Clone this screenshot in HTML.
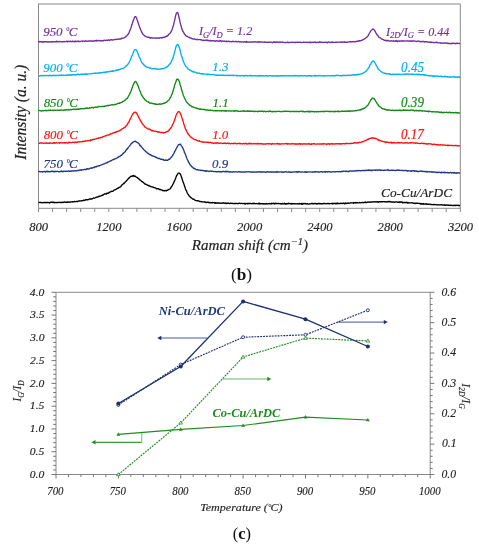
<!DOCTYPE html>
<html><head><meta charset="utf-8"><style>
html,body{margin:0;padding:0;background:#fff;}
svg{display:block;will-change:transform;}
</style></head><body>
<svg width="479" height="550" viewBox="0 0 479 550">
<rect width="479" height="550" fill="#fff"/>
<rect x="38.5" y="4" width="421.8" height="204.3" fill="none" stroke="#8a8a8a" stroke-width="1"/>
<path d="M38.50 208.3V212 M52.56 208.3V212 M66.62 208.3V212 M80.68 208.3V212 M94.74 208.3V212 M108.80 208.3V212 M122.86 208.3V212 M136.92 208.3V212 M150.98 208.3V212 M165.04 208.3V212 M179.10 208.3V212 M193.16 208.3V212 M207.22 208.3V212 M221.28 208.3V212 M235.34 208.3V212 M249.40 208.3V212 M263.46 208.3V212 M277.52 208.3V212 M291.58 208.3V212 M305.64 208.3V212 M319.70 208.3V212 M333.76 208.3V212 M347.82 208.3V212 M361.88 208.3V212 M375.94 208.3V212 M390.00 208.3V212 M404.06 208.3V212 M418.12 208.3V212 M432.18 208.3V212 M446.24 208.3V212 M460.30 208.3V212" stroke="#8a8a8a" stroke-width="1" fill="none"/>
<polyline points="38.5,42.30 39.0,41.37 39.5,41.97 40.0,41.77 40.5,41.79 41.0,41.83 41.5,41.47 42.0,41.82 42.5,41.69 43.0,42.52 43.5,41.90 44.0,41.78 44.5,41.79 45.0,41.71 45.5,41.63 46.0,41.76 46.5,41.93 47.0,41.78 47.5,42.02 48.0,41.78 48.5,41.82 49.0,42.12 49.5,41.92 50.0,41.70 50.5,41.76 51.0,41.90 51.5,42.18 52.0,41.73 52.5,41.73 53.0,41.97 53.5,41.59 54.0,41.70 54.5,41.93 55.0,41.87 55.5,41.76 56.0,41.87 56.5,41.17 57.0,41.93 57.5,41.53 58.0,41.38 58.5,41.76 59.0,41.84 59.5,41.61 60.0,41.47 60.5,41.69 61.0,41.66 61.5,41.95 62.0,41.81 62.5,41.69 63.0,41.87 63.5,41.60 64.0,41.44 64.5,41.74 65.0,41.73 65.5,41.56 66.0,41.44 66.5,41.63 67.0,41.08 67.5,41.71 68.0,41.66 68.5,41.22 69.0,41.55 69.5,41.34 70.0,41.67 70.5,41.11 71.0,41.32 71.5,41.64 72.0,41.71 72.5,41.04 73.0,41.36 73.5,41.52 74.0,41.32 74.5,41.75 75.0,41.18 75.5,41.48 76.0,41.19 76.5,41.67 77.0,41.37 77.5,41.29 78.0,41.01 78.5,41.67 79.0,41.48 79.5,41.46 80.0,41.53 80.5,41.36 81.0,41.15 81.5,41.10 82.0,41.09 82.5,41.51 83.0,40.93 83.5,41.09 84.0,41.13 84.5,41.22 85.0,41.28 85.5,40.90 86.0,40.79 86.5,41.12 87.0,41.34 87.5,41.24 88.0,41.11 88.5,40.99 89.0,41.10 89.5,40.97 90.0,41.17 90.5,40.83 91.0,41.00 91.5,40.93 92.0,41.04 92.5,40.96 93.0,41.41 93.5,41.18 94.0,41.16 94.5,40.44 95.0,40.76 95.5,40.68 96.0,40.89 96.5,40.31 97.0,40.98 97.5,40.94 98.0,40.44 98.5,40.49 99.0,40.50 99.5,40.65 100.0,40.74 100.5,41.00 101.0,40.53 101.5,40.70 102.0,40.55 102.5,40.85 103.0,40.62 103.5,40.72 104.0,40.21 104.5,40.36 105.0,40.21 105.5,40.64 106.0,40.44 106.5,40.22 107.0,40.16 107.5,40.32 108.0,40.05 108.5,39.97 109.0,40.22 109.5,40.58 110.0,40.01 110.5,39.91 111.0,39.75 111.5,39.67 112.0,40.00 112.5,40.03 113.0,39.81 113.5,39.83 114.0,39.74 114.5,39.70 115.0,39.31 115.5,39.47 116.0,39.52 116.5,39.28 117.0,39.28 117.5,39.14 118.0,39.17 118.5,39.33 119.0,38.99 119.5,38.95 120.0,39.05 120.5,38.91 121.0,39.01 121.5,38.13 122.0,38.58 122.5,38.16 123.0,38.11 123.5,38.06 124.0,37.89 124.5,37.63 125.0,37.17 125.5,37.13 126.0,36.37 126.5,35.95 127.0,35.62 127.5,34.74 128.0,34.59 128.5,33.56 129.0,32.88 129.5,31.41 130.0,30.19 130.5,29.02 131.0,27.73 131.5,25.96 132.0,24.58 132.5,22.87 133.0,21.60 133.5,19.65 134.0,18.71 134.5,17.39 135.0,16.75 135.5,16.70 136.0,16.98 136.5,18.06 137.0,19.40 137.5,20.63 138.0,22.26 138.5,24.05 139.0,25.35 139.5,26.84 140.0,28.16 140.5,29.18 141.0,30.83 141.5,31.37 142.0,32.77 142.5,33.45 143.0,34.37 143.5,34.74 144.0,35.10 144.5,35.78 145.0,35.97 145.5,36.36 146.0,36.68 146.5,36.87 147.0,37.05 147.5,37.09 148.0,37.36 148.5,37.09 149.0,37.60 149.5,37.48 150.0,38.02 150.5,38.12 151.0,37.54 151.5,38.01 152.0,37.99 152.5,37.85 153.0,38.19 153.5,38.02 154.0,37.77 154.5,38.09 155.0,38.12 155.5,38.17 156.0,37.90 156.5,38.26 157.0,38.27 157.5,37.88 158.0,37.95 158.5,38.04 159.0,37.91 159.5,38.33 160.0,37.97 160.5,37.67 161.0,37.65 161.5,37.72 162.0,38.11 162.5,37.52 163.0,37.48 163.5,37.44 164.0,37.20 164.5,37.51 165.0,36.78 165.5,36.85 166.0,36.51 166.5,36.36 167.0,35.73 167.5,36.00 168.0,35.26 168.5,34.88 169.0,34.22 169.5,33.71 170.0,33.34 170.5,32.69 171.0,31.80 171.5,30.90 172.0,29.65 172.5,28.18 173.0,26.81 173.5,25.00 174.0,22.89 174.5,20.91 175.0,18.78 175.5,16.37 176.0,14.33 176.5,13.13 177.0,12.69 177.5,12.46 178.0,13.50 178.5,15.17 179.0,17.54 179.5,19.19 180.0,21.88 180.5,24.16 181.0,25.68 181.5,27.84 182.0,29.14 182.5,30.21 183.0,31.47 183.5,32.09 184.0,33.11 184.5,34.31 185.0,34.39 185.5,35.49 186.0,35.58 186.5,36.22 187.0,36.41 187.5,36.28 188.0,36.91 188.5,37.33 189.0,37.30 189.5,37.48 190.0,38.01 190.5,37.99 191.0,37.94 191.5,38.29 192.0,38.74 192.5,38.60 193.0,39.00 193.5,39.23 194.0,39.03 194.5,38.89 195.0,38.95 195.5,39.28 196.0,39.54 196.5,39.50 197.0,39.62 197.5,39.49 198.0,39.70 198.5,39.61 199.0,39.69 199.5,39.55 200.0,39.55 200.5,39.82 201.0,39.74 201.5,39.82 202.0,40.19 202.5,40.08 203.0,40.72 203.5,40.36 204.0,40.09 204.5,40.41 205.0,40.36 205.5,40.19 206.0,40.58 206.5,40.24 207.0,39.82 207.5,40.62 208.0,40.37 208.5,40.82 209.0,40.42 209.5,40.34 210.0,40.92 210.5,40.42 211.0,40.70 211.5,40.98 212.0,40.74 212.5,40.73 213.0,40.79 213.5,40.96 214.0,40.66 214.5,40.96 215.0,40.98 215.5,41.35 216.0,40.84 216.5,40.75 217.0,41.10 217.5,40.90 218.0,41.06 218.5,41.05 219.0,41.27 219.5,40.93 220.0,41.06 220.5,40.59 221.0,40.94 221.5,41.45 222.0,41.02 222.5,41.04 223.0,40.95 223.5,41.33 224.0,41.27 224.5,41.01 225.0,41.40 225.5,41.34 226.0,41.46 226.5,41.19 227.0,41.69 227.5,41.44 228.0,41.35 228.5,41.28 229.0,41.36 229.5,41.59 230.0,41.38 230.5,41.67 231.0,41.58 231.5,41.75 232.0,41.66 232.5,41.50 233.0,41.14 233.5,41.60 234.0,41.71 234.5,41.60 235.0,41.69 235.5,41.50 236.0,41.53 236.5,41.43 237.0,41.91 237.5,41.68 238.0,41.56 238.5,41.41 239.0,41.65 239.5,41.99 240.0,41.80 240.5,41.58 241.0,42.02 241.5,42.03 242.0,41.95 242.5,41.93 243.0,42.01 243.5,41.90 244.0,41.96 244.5,41.65 245.0,42.12 245.5,41.88 246.0,42.25 246.5,41.44 247.0,42.00 247.5,42.07 248.0,41.81 248.5,41.98 249.0,42.05 249.5,42.02 250.0,41.81 250.5,41.90 251.0,42.14 251.5,42.20 252.0,41.97 252.5,41.98 253.0,42.01 253.5,42.19 254.0,41.77 254.5,41.73 255.0,42.03 255.5,41.79 256.0,41.90 256.5,42.04 257.0,42.13 257.5,41.82 258.0,42.21 258.5,41.70 259.0,42.17 259.5,41.75 260.0,41.82 260.5,42.21 261.0,42.00 261.5,41.93 262.0,42.01 262.5,42.20 263.0,42.10 263.5,42.11 264.0,42.33 264.5,41.98 265.0,42.04 265.5,42.03 266.0,42.38 266.5,42.35 267.0,42.41 267.5,42.15 268.0,42.13 268.5,42.34 269.0,42.09 269.5,42.34 270.0,42.33 270.5,42.05 271.0,42.18 271.5,42.17 272.0,42.55 272.5,42.72 273.0,42.19 273.5,42.22 274.0,41.76 274.5,42.26 275.0,42.22 275.5,42.01 276.0,42.39 276.5,41.92 277.0,42.20 277.5,42.27 278.0,42.00 278.5,42.42 279.0,42.46 279.5,41.98 280.0,41.98 280.5,42.38 281.0,42.26 281.5,42.03 282.0,42.21 282.5,42.25 283.0,42.25 283.5,42.44 284.0,42.36 284.5,42.64 285.0,42.56 285.5,42.42 286.0,42.51 286.5,42.56 287.0,42.44 287.5,42.05 288.0,42.47 288.5,42.32 289.0,42.63 289.5,42.33 290.0,42.41 290.5,42.38 291.0,42.65 291.5,42.35 292.0,42.26 292.5,42.38 293.0,42.23 293.5,42.35 294.0,42.32 294.5,42.38 295.0,42.71 295.5,42.25 296.0,42.34 296.5,42.29 297.0,42.47 297.5,42.10 298.0,42.20 298.5,42.33 299.0,42.45 299.5,42.33 300.0,42.24 300.5,42.17 301.0,42.44 301.5,42.63 302.0,42.41 302.5,42.38 303.0,42.43 303.5,42.16 304.0,42.28 304.5,42.29 305.0,42.41 305.5,42.34 306.0,42.10 306.5,42.57 307.0,42.69 307.5,42.30 308.0,42.43 308.5,42.40 309.0,42.51 309.5,42.05 310.0,42.67 310.5,42.26 311.0,42.60 311.5,42.37 312.0,42.27 312.5,42.32 313.0,42.53 313.5,42.18 314.0,42.27 314.5,42.25 315.0,42.01 315.5,42.61 316.0,42.46 316.5,42.34 317.0,42.58 317.5,42.15 318.0,42.33 318.5,42.69 319.0,42.54 319.5,41.90 320.0,41.68 320.5,42.13 321.0,42.55 321.5,42.24 322.0,42.29 322.5,42.46 323.0,42.16 323.5,42.37 324.0,42.49 324.5,42.42 325.0,42.41 325.5,42.20 326.0,42.43 326.5,42.24 327.0,42.58 327.5,42.83 328.0,42.17 328.5,41.88 329.0,42.22 329.5,42.38 330.0,42.51 330.5,42.51 331.0,42.14 331.5,42.13 332.0,42.54 332.5,42.07 333.0,42.50 333.5,42.23 334.0,42.43 334.5,42.41 335.0,42.42 335.5,42.42 336.0,42.05 336.5,42.31 337.0,42.24 337.5,42.30 338.0,42.47 338.5,42.17 339.0,42.07 339.5,42.06 340.0,42.14 340.5,42.34 341.0,42.02 341.5,42.40 342.0,42.22 342.5,42.11 343.0,41.87 343.5,42.18 344.0,42.26 344.5,41.75 345.0,42.33 345.5,42.41 346.0,42.13 346.5,42.14 347.0,42.51 347.5,42.26 348.0,41.81 348.5,41.97 349.0,41.92 349.5,41.90 350.0,41.43 350.5,42.03 351.0,41.72 351.5,41.86 352.0,41.76 352.5,41.93 353.0,41.66 353.5,41.52 354.0,41.75 354.5,41.88 355.0,41.48 355.5,41.77 356.0,41.49 356.5,41.27 357.0,41.62 357.5,41.07 358.0,41.36 358.5,40.97 359.0,41.07 359.5,40.63 360.0,40.59 360.5,40.85 361.0,40.54 361.5,40.35 362.0,40.09 362.5,40.08 363.0,39.50 363.5,39.32 364.0,39.25 364.5,38.82 365.0,38.51 365.5,38.27 366.0,37.84 366.5,37.35 367.0,37.20 367.5,36.48 368.0,35.87 368.5,34.90 369.0,34.03 369.5,33.00 370.0,32.36 370.5,31.16 371.0,30.64 371.5,30.20 372.0,29.83 372.5,29.37 373.0,28.93 373.5,29.38 374.0,29.55 374.5,30.49 375.0,31.05 375.5,32.08 376.0,33.27 376.5,33.78 377.0,34.86 377.5,35.18 378.0,35.75 378.5,36.70 379.0,37.32 379.5,37.35 380.0,37.91 380.5,37.99 381.0,38.57 381.5,39.09 382.0,39.16 382.5,39.30 383.0,39.34 383.5,39.88 384.0,40.13 384.5,40.23 385.0,40.30 385.5,40.10 386.0,40.81 386.5,40.54 387.0,40.60 387.5,40.85 388.0,40.33 388.5,40.81 389.0,40.84 389.5,40.99 390.0,41.22 390.5,41.08 391.0,40.64 391.5,40.97 392.0,41.09 392.5,41.10 393.0,40.83 393.5,40.76 394.0,41.21 394.5,41.18 395.0,41.11 395.5,40.77 396.0,41.47 396.5,40.53 397.0,41.04 397.5,41.53 398.0,41.07 398.5,41.15 399.0,40.86 399.5,41.36 400.0,40.82 400.5,41.12 401.0,41.09 401.5,40.85 402.0,41.23 402.5,40.76 403.0,40.90 403.5,41.03 404.0,40.94 404.5,41.11 405.0,41.20 405.5,40.95 406.0,40.90 406.5,40.90 407.0,40.93 407.5,41.17 408.0,40.97 408.5,41.09 409.0,41.00 409.5,40.85 410.0,41.20 410.5,40.83 411.0,41.04 411.5,41.35 412.0,40.84 412.5,41.06 413.0,40.77 413.5,41.00 414.0,40.82 414.5,41.07 415.0,41.05 415.5,41.21 416.0,41.52 416.5,41.29 417.0,41.39 417.5,41.27 418.0,41.26 418.5,41.17 419.0,41.01 419.5,41.41 420.0,41.76 420.5,41.56 421.0,41.39 421.5,41.86 422.0,41.48 422.5,41.48 423.0,41.40 423.5,41.49 424.0,41.67 424.5,42.16 425.0,41.76 425.5,41.63 426.0,41.75 426.5,41.87 427.0,41.61 427.5,42.02 428.0,42.18 428.5,42.14 429.0,42.24 429.5,41.90 430.0,41.86 430.5,42.49 431.0,42.50 431.5,42.01 432.0,42.40 432.5,42.40 433.0,42.54 433.5,42.51 434.0,42.40 434.5,42.58 435.0,42.61 435.5,42.60 436.0,42.28 436.5,42.08 437.0,42.56 437.5,42.42 438.0,42.83 438.5,42.95 439.0,42.89 439.5,42.80 440.0,42.91 440.5,43.16 441.0,42.81 441.5,43.17 442.0,43.15 442.5,43.09 443.0,43.35 443.5,42.94 444.0,43.30 444.5,42.95 445.0,43.00 445.5,42.97 446.0,43.29 446.5,43.03 447.0,43.25 447.5,43.03 448.0,43.49 448.5,43.67 449.0,43.36 449.5,43.66 450.0,43.47 450.5,43.80 451.0,43.41 451.5,43.09 452.0,43.72 452.5,43.41 453.0,43.24 453.5,43.33 454.0,43.15 454.5,43.46 455.0,43.29 455.5,43.82 456.0,43.67 456.5,43.22 457.0,43.26 457.5,43.46 458.0,43.20 458.5,43.58 459.0,43.61 459.5,43.47 460.0,43.53" fill="none" stroke="#7030A0" stroke-width="1.35" stroke-linejoin="round"/>
<polyline points="38.5,75.81 39.0,75.99 39.5,76.00 40.0,75.71 40.5,75.86 41.0,75.54 41.5,75.77 42.0,75.49 42.5,75.82 43.0,75.42 43.5,75.47 44.0,75.66 44.5,75.76 45.0,75.36 45.5,75.53 46.0,75.66 46.5,75.67 47.0,75.45 47.5,75.63 48.0,75.55 48.5,75.88 49.0,75.70 49.5,75.32 50.0,75.14 50.5,75.59 51.0,75.80 51.5,75.59 52.0,75.72 52.5,75.44 53.0,75.25 53.5,75.66 54.0,75.52 54.5,75.63 55.0,75.21 55.5,75.51 56.0,75.34 56.5,75.61 57.0,75.32 57.5,75.30 58.0,75.30 58.5,75.65 59.0,75.39 59.5,75.22 60.0,75.16 60.5,75.14 61.0,75.63 61.5,74.96 62.0,75.13 62.5,75.42 63.0,75.51 63.5,75.23 64.0,75.40 64.5,75.37 65.0,75.40 65.5,75.20 66.0,75.50 66.5,75.19 67.0,75.44 67.5,74.90 68.0,75.28 68.5,74.82 69.0,74.76 69.5,75.14 70.0,74.85 70.5,75.08 71.0,74.76 71.5,75.27 72.0,74.93 72.5,74.67 73.0,74.91 73.5,75.03 74.0,74.67 74.5,74.91 75.0,75.19 75.5,74.92 76.0,74.72 76.5,74.58 77.0,74.78 77.5,74.33 78.0,74.00 78.5,74.45 79.0,74.33 79.5,74.87 80.0,74.51 80.5,74.26 81.0,74.19 81.5,74.49 82.0,74.19 82.5,74.21 83.0,74.27 83.5,74.27 84.0,74.24 84.5,74.20 85.0,74.41 85.5,74.45 86.0,73.74 86.5,74.55 87.0,74.02 87.5,74.20 88.0,73.77 88.5,73.94 89.0,73.87 89.5,73.81 90.0,73.92 90.5,73.83 91.0,73.46 91.5,73.59 92.0,73.72 92.5,73.67 93.0,73.42 93.5,73.38 94.0,73.36 94.5,73.12 95.0,73.04 95.5,73.56 96.0,73.12 96.5,73.17 97.0,72.95 97.5,73.30 98.0,73.34 98.5,72.90 99.0,72.99 99.5,72.68 100.0,73.13 100.5,72.91 101.0,72.50 101.5,72.86 102.0,72.63 102.5,72.58 103.0,72.51 103.5,72.25 104.0,72.22 104.5,72.39 105.0,72.19 105.5,71.95 106.0,72.48 106.5,71.97 107.0,71.83 107.5,71.74 108.0,71.95 108.5,71.94 109.0,71.72 109.5,71.77 110.0,71.22 110.5,71.38 111.0,71.28 111.5,71.29 112.0,71.31 112.5,70.72 113.0,71.67 113.5,70.78 114.0,70.93 114.5,70.94 115.0,70.85 115.5,70.62 116.0,69.89 116.5,70.14 117.0,70.40 117.5,69.94 118.0,69.79 118.5,69.40 119.0,69.97 119.5,69.68 120.0,69.24 120.5,69.23 121.0,69.06 121.5,68.66 122.0,68.62 122.5,68.51 123.0,68.33 123.5,68.21 124.0,67.68 124.5,67.27 125.0,67.10 125.5,66.52 126.0,65.98 126.5,66.00 127.0,65.19 127.5,64.72 128.0,64.20 128.5,63.14 129.0,62.70 129.5,61.79 130.0,60.71 130.5,59.74 131.0,58.34 131.5,56.79 132.0,55.84 132.5,54.34 133.0,53.34 133.5,51.94 134.0,50.68 134.5,49.96 135.0,49.72 135.5,49.57 136.0,49.71 136.5,50.39 137.0,51.21 137.5,52.41 138.0,53.85 138.5,55.05 139.0,56.46 139.5,57.44 140.0,58.51 140.5,59.58 141.0,60.82 141.5,62.05 142.0,62.81 142.5,63.08 143.0,63.60 143.5,64.63 144.0,65.06 144.5,65.14 145.0,66.02 145.5,66.20 146.0,66.75 146.5,66.83 147.0,67.20 147.5,67.32 148.0,67.27 148.5,67.60 149.0,67.68 149.5,68.14 150.0,67.91 150.5,67.93 151.0,68.49 151.5,68.68 152.0,68.83 152.5,68.85 153.0,68.40 153.5,68.63 154.0,68.72 154.5,68.87 155.0,68.49 155.5,68.95 156.0,69.04 156.5,68.81 157.0,69.04 157.5,69.26 158.0,69.03 158.5,69.23 159.0,69.20 159.5,69.06 160.0,69.02 160.5,68.83 161.0,69.09 161.5,68.69 162.0,68.56 162.5,68.75 163.0,68.36 163.5,68.47 164.0,68.46 164.5,68.10 165.0,67.92 165.5,67.87 166.0,67.60 166.5,66.87 167.0,66.61 167.5,66.78 168.0,66.20 168.5,65.25 169.0,64.87 169.5,64.56 170.0,63.69 170.5,63.21 171.0,62.26 171.5,61.35 172.0,59.89 172.5,58.98 173.0,57.83 173.5,55.72 174.0,54.43 174.5,52.56 175.0,50.63 175.5,48.66 176.0,46.77 176.5,45.45 177.0,44.84 177.5,44.48 178.0,44.72 178.5,45.45 179.0,46.70 179.5,48.07 180.0,49.77 180.5,52.01 181.0,54.01 181.5,55.79 182.0,57.20 182.5,58.99 183.0,60.24 183.5,61.86 184.0,62.77 184.5,63.98 185.0,64.99 185.5,65.77 186.0,66.74 186.5,66.90 187.0,67.27 187.5,68.42 188.0,68.98 188.5,69.41 189.0,69.57 189.5,69.97 190.0,70.21 190.5,70.22 191.0,70.63 191.5,71.10 192.0,71.11 192.5,71.82 193.0,71.33 193.5,71.73 194.0,72.21 194.5,72.03 195.0,72.07 195.5,72.16 196.0,72.42 196.5,73.00 197.0,72.89 197.5,73.03 198.0,72.92 198.5,73.30 199.0,73.24 199.5,73.13 200.0,73.31 200.5,73.52 201.0,73.79 201.5,73.62 202.0,73.81 202.5,74.18 203.0,73.68 203.5,73.65 204.0,74.16 204.5,74.11 205.0,74.06 205.5,74.19 206.0,74.12 206.5,74.34 207.0,74.22 207.5,74.49 208.0,74.14 208.5,74.26 209.0,74.48 209.5,74.41 210.0,74.68 210.5,74.57 211.0,74.51 211.5,74.70 212.0,74.58 212.5,74.41 213.0,74.53 213.5,74.63 214.0,74.72 214.5,74.87 215.0,75.06 215.5,75.01 216.0,75.29 216.5,75.21 217.0,74.94 217.5,75.34 218.0,75.27 218.5,74.96 219.0,75.14 219.5,75.32 220.0,75.17 220.5,75.34 221.0,75.24 221.5,75.32 222.0,75.14 222.5,75.29 223.0,75.16 223.5,75.39 224.0,74.93 224.5,75.35 225.0,75.55 225.5,75.43 226.0,75.33 226.5,75.46 227.0,75.19 227.5,75.21 228.0,75.32 228.5,75.37 229.0,75.61 229.5,75.25 230.0,75.64 230.5,75.14 231.0,75.30 231.5,75.47 232.0,75.72 232.5,75.37 233.0,75.08 233.5,75.60 234.0,75.52 234.5,75.32 235.0,75.33 235.5,75.41 236.0,75.58 236.5,75.70 237.0,75.28 237.5,76.04 238.0,75.58 238.5,75.52 239.0,75.74 239.5,75.63 240.0,76.08 240.5,75.84 241.0,75.56 241.5,75.56 242.0,75.54 242.5,75.58 243.0,75.79 243.5,75.53 244.0,75.99 244.5,75.65 245.0,75.64 245.5,75.87 246.0,75.29 246.5,75.50 247.0,75.81 247.5,75.70 248.0,75.70 248.5,75.78 249.0,75.59 249.5,75.68 250.0,75.44 250.5,75.34 251.0,75.97 251.5,75.54 252.0,75.58 252.5,76.01 253.0,75.95 253.5,75.63 254.0,75.63 254.5,75.73 255.0,75.55 255.5,75.86 256.0,75.78 256.5,75.78 257.0,75.91 257.5,75.90 258.0,76.13 258.5,76.07 259.0,75.42 259.5,75.95 260.0,75.54 260.5,75.48 261.0,75.91 261.5,75.63 262.0,75.71 262.5,75.99 263.0,75.65 263.5,75.60 264.0,75.85 264.5,76.03 265.0,75.89 265.5,75.48 266.0,75.66 266.5,75.76 267.0,76.18 267.5,75.97 268.0,75.96 268.5,76.04 269.0,75.73 269.5,75.89 270.0,75.90 270.5,75.60 271.0,75.80 271.5,75.92 272.0,75.59 272.5,75.97 273.0,75.96 273.5,76.01 274.0,75.65 274.5,75.83 275.0,76.10 275.5,75.97 276.0,75.65 276.5,75.86 277.0,76.10 277.5,75.80 278.0,75.89 278.5,76.33 279.0,75.81 279.5,75.79 280.0,75.61 280.5,75.68 281.0,76.11 281.5,75.79 282.0,75.58 282.5,75.63 283.0,75.82 283.5,75.97 284.0,75.67 284.5,75.96 285.0,75.72 285.5,75.89 286.0,75.92 286.5,75.94 287.0,75.73 287.5,75.79 288.0,75.92 288.5,75.56 289.0,75.85 289.5,75.92 290.0,76.03 290.5,75.81 291.0,75.78 291.5,75.85 292.0,75.67 292.5,75.78 293.0,75.90 293.5,75.87 294.0,75.61 294.5,75.75 295.0,75.39 295.5,75.98 296.0,75.71 296.5,75.86 297.0,75.59 297.5,75.80 298.0,75.90 298.5,76.01 299.0,75.54 299.5,75.98 300.0,75.78 300.5,75.66 301.0,75.91 301.5,75.75 302.0,75.75 302.5,75.67 303.0,75.85 303.5,75.82 304.0,75.77 304.5,75.62 305.0,75.70 305.5,75.89 306.0,76.06 306.5,75.80 307.0,76.09 307.5,75.80 308.0,75.58 308.5,75.93 309.0,75.61 309.5,75.88 310.0,76.01 310.5,75.74 311.0,75.78 311.5,76.29 312.0,75.84 312.5,75.85 313.0,75.95 313.5,75.77 314.0,75.77 314.5,75.86 315.0,75.31 315.5,76.07 316.0,75.57 316.5,75.57 317.0,75.89 317.5,75.79 318.0,75.53 318.5,75.82 319.0,75.55 319.5,75.63 320.0,75.47 320.5,75.60 321.0,75.85 321.5,75.79 322.0,75.82 322.5,75.94 323.0,75.75 323.5,75.62 324.0,75.70 324.5,76.08 325.0,75.75 325.5,75.81 326.0,75.72 326.5,75.79 327.0,75.82 327.5,75.73 328.0,75.70 328.5,75.57 329.0,75.55 329.5,75.80 330.0,75.86 330.5,75.89 331.0,75.72 331.5,75.54 332.0,75.82 332.5,75.82 333.0,75.39 333.5,75.84 334.0,75.79 334.5,76.00 335.0,75.44 335.5,75.40 336.0,75.81 336.5,75.29 337.0,75.49 337.5,75.42 338.0,75.42 338.5,75.24 339.0,75.56 339.5,75.80 340.0,75.68 340.5,75.67 341.0,75.50 341.5,75.85 342.0,75.66 342.5,75.75 343.0,75.22 343.5,75.59 344.0,75.28 344.5,75.56 345.0,75.52 345.5,75.24 346.0,75.48 346.5,75.66 347.0,75.51 347.5,75.51 348.0,75.20 348.5,75.21 349.0,75.11 349.5,75.33 350.0,75.51 350.5,75.34 351.0,75.22 351.5,74.97 352.0,75.25 352.5,75.07 353.0,74.70 353.5,74.70 354.0,74.93 354.5,74.77 355.0,75.23 355.5,74.85 356.0,74.58 356.5,74.63 357.0,74.97 357.5,74.39 358.0,74.65 358.5,74.50 359.0,74.60 359.5,74.31 360.0,74.01 360.5,74.06 361.0,73.83 361.5,73.85 362.0,73.47 362.5,73.68 363.0,73.05 363.5,72.92 364.0,72.43 364.5,72.29 365.0,71.93 365.5,71.57 366.0,71.29 366.5,70.51 367.0,69.90 367.5,69.68 368.0,68.71 368.5,67.88 369.0,67.40 369.5,66.42 370.0,64.78 370.5,64.26 371.0,63.53 371.5,62.67 372.0,61.68 372.5,61.59 373.0,60.89 373.5,61.08 374.0,61.51 374.5,62.09 375.0,63.05 375.5,64.00 376.0,64.75 376.5,65.99 377.0,66.50 377.5,67.45 378.0,68.62 378.5,69.00 379.0,69.83 379.5,70.09 380.0,70.62 380.5,71.09 381.0,71.54 381.5,71.78 382.0,72.15 382.5,72.55 383.0,72.89 383.5,72.88 384.0,73.18 384.5,73.39 385.0,73.14 385.5,73.17 386.0,73.92 386.5,73.96 387.0,73.80 387.5,73.94 388.0,73.75 388.5,73.73 389.0,74.12 389.5,73.81 390.0,74.32 390.5,74.04 391.0,74.27 391.5,74.62 392.0,74.63 392.5,74.22 393.0,74.50 393.5,74.09 394.0,74.19 394.5,74.39 395.0,74.59 395.5,74.20 396.0,74.43 396.5,74.34 397.0,74.06 397.5,74.28 398.0,74.60 398.5,74.28 399.0,74.39 399.5,74.45 400.0,74.13 400.5,74.51 401.0,74.56 401.5,74.57 402.0,74.50 402.5,74.14 403.0,74.11 403.5,74.06 404.0,74.03 404.5,74.04 405.0,74.40 405.5,74.49 406.0,74.06 406.5,74.35 407.0,73.93 407.5,74.12 408.0,73.99 408.5,73.87 409.0,74.20 409.5,74.21 410.0,74.12 410.5,74.11 411.0,74.03 411.5,74.21 412.0,74.13 412.5,74.31 413.0,74.04 413.5,74.34 414.0,74.42 414.5,74.58 415.0,74.57 415.5,74.42 416.0,74.27 416.5,74.07 417.0,74.46 417.5,74.78 418.0,74.86 418.5,74.05 419.0,74.44 419.5,74.56 420.0,74.46 420.5,74.74 421.0,74.75 421.5,74.68 422.0,74.81 422.5,74.54 423.0,74.71 423.5,74.77 424.0,75.17 424.5,74.71 425.0,75.03 425.5,75.28 426.0,75.16 426.5,75.37 427.0,75.13 427.5,75.39 428.0,75.53 428.5,75.84 429.0,75.59 429.5,75.77 430.0,75.53 430.5,75.60 431.0,75.94 431.5,75.78 432.0,76.00 432.5,75.90 433.0,76.22 433.5,76.32 434.0,75.72 434.5,76.30 435.0,76.05 435.5,76.10 436.0,76.02 436.5,76.23 437.0,75.90 437.5,76.02 438.0,76.04 438.5,76.29 439.0,76.45 439.5,76.45 440.0,76.41 440.5,76.25 441.0,76.05 441.5,76.51 442.0,76.49 442.5,76.57 443.0,76.81 443.5,76.52 444.0,76.54 444.5,76.14 445.0,76.74 445.5,76.65 446.0,76.53 446.5,76.78 447.0,76.52 447.5,76.65 448.0,77.17 448.5,76.95 449.0,77.00 449.5,76.99 450.0,76.99 450.5,76.92 451.0,77.36 451.5,76.90 452.0,77.09 452.5,76.91 453.0,76.90 453.5,76.50 454.0,76.62 454.5,77.34 455.0,77.34 455.5,76.97 456.0,77.07 456.5,77.21 457.0,76.91 457.5,77.48 458.0,76.93 458.5,77.01 459.0,76.61 459.5,77.49 460.0,77.21" fill="none" stroke="#00B0F0" stroke-width="1.35" stroke-linejoin="round"/>
<polyline points="38.5,110.89 39.0,110.36 39.5,110.63 40.0,110.57 40.5,110.59 41.0,110.96 41.5,111.00 42.0,110.81 42.5,110.45 43.0,110.71 43.5,110.79 44.0,110.63 44.5,110.63 45.0,110.60 45.5,110.32 46.0,110.54 46.5,110.81 47.0,110.28 47.5,110.49 48.0,110.63 48.5,110.18 49.0,110.42 49.5,110.10 50.0,110.31 50.5,110.14 51.0,110.23 51.5,110.30 52.0,110.33 52.5,110.33 53.0,109.88 53.5,110.67 54.0,110.28 54.5,110.11 55.0,110.19 55.5,110.36 56.0,110.08 56.5,110.19 57.0,110.16 57.5,110.35 58.0,110.08 58.5,110.30 59.0,110.26 59.5,110.15 60.0,110.41 60.5,110.14 61.0,109.88 61.5,110.16 62.0,110.11 62.5,110.05 63.0,110.09 63.5,110.49 64.0,110.04 64.5,110.07 65.0,109.90 65.5,110.19 66.0,109.89 66.5,109.72 67.0,109.61 67.5,109.93 68.0,109.95 68.5,109.45 69.0,109.60 69.5,109.84 70.0,109.89 70.5,109.39 71.0,109.54 71.5,109.76 72.0,109.45 72.5,109.44 73.0,109.39 73.5,109.20 74.0,109.43 74.5,109.45 75.0,109.07 75.5,109.34 76.0,109.50 76.5,109.28 77.0,109.39 77.5,109.05 78.0,109.39 78.5,108.92 79.0,109.41 79.5,108.91 80.0,108.81 80.5,108.73 81.0,108.78 81.5,108.72 82.0,108.63 82.5,108.66 83.0,108.81 83.5,108.81 84.0,108.51 84.5,108.78 85.0,108.28 85.5,108.23 86.0,108.15 86.5,108.45 87.0,107.97 87.5,107.94 88.0,108.42 88.5,108.46 89.0,108.33 89.5,107.71 90.0,107.95 90.5,108.06 91.0,107.85 91.5,107.45 92.0,107.65 92.5,107.32 93.0,107.35 93.5,107.97 94.0,107.61 94.5,107.12 95.0,107.06 95.5,107.39 96.0,107.11 96.5,107.28 97.0,106.98 97.5,107.00 98.0,107.02 98.5,106.71 99.0,106.46 99.5,106.54 100.0,106.58 100.5,106.61 101.0,106.57 101.5,106.50 102.0,106.55 102.5,106.20 103.0,106.58 103.5,106.64 104.0,106.24 104.5,106.13 105.0,106.27 105.5,106.08 106.0,105.91 106.5,105.77 107.0,105.58 107.5,105.42 108.0,105.71 108.5,105.73 109.0,105.20 109.5,105.32 110.0,105.30 110.5,105.08 111.0,104.93 111.5,104.92 112.0,104.51 112.5,104.80 113.0,104.66 113.5,105.05 114.0,104.71 114.5,104.35 115.0,104.31 115.5,104.55 116.0,104.41 116.5,104.01 117.0,103.82 117.5,103.42 118.0,103.51 118.5,103.39 119.0,103.13 119.5,103.46 120.0,102.56 120.5,102.72 121.0,102.63 121.5,102.42 122.0,102.44 122.5,101.58 123.0,101.44 123.5,101.31 124.0,101.00 124.5,100.55 125.0,100.09 125.5,100.03 126.0,99.15 126.5,98.73 127.0,98.56 127.5,97.99 128.0,97.12 128.5,96.01 129.0,95.15 129.5,94.20 130.0,93.12 130.5,92.14 131.0,91.26 131.5,89.76 132.0,88.21 132.5,86.83 133.0,85.40 133.5,84.61 134.0,82.87 134.5,82.47 135.0,81.58 135.5,81.47 136.0,81.58 136.5,82.62 137.0,83.27 137.5,84.95 138.0,85.46 138.5,86.82 139.0,88.55 139.5,89.92 140.0,91.06 140.5,91.95 141.0,93.79 141.5,94.67 142.0,95.60 142.5,96.27 143.0,97.31 143.5,97.78 144.0,98.54 144.5,99.07 145.0,99.88 145.5,100.01 146.0,100.47 146.5,101.14 147.0,101.32 147.5,101.59 148.0,101.84 148.5,102.34 149.0,102.27 149.5,102.71 150.0,103.23 150.5,103.09 151.0,103.02 151.5,103.09 152.0,103.50 152.5,103.35 153.0,103.40 153.5,103.67 154.0,103.69 154.5,104.17 155.0,103.78 155.5,104.45 156.0,104.03 156.5,104.25 157.0,104.39 157.5,104.32 158.0,104.44 158.5,104.10 159.0,103.83 159.5,104.22 160.0,103.89 160.5,104.07 161.0,104.31 161.5,104.00 162.0,103.83 162.5,103.62 163.0,103.65 163.5,103.53 164.0,103.07 164.5,103.25 165.0,102.75 165.5,102.75 166.0,102.32 166.5,102.27 167.0,101.87 167.5,101.27 168.0,100.76 168.5,100.33 169.0,99.90 169.5,99.14 170.0,98.18 170.5,97.33 171.0,96.60 171.5,94.85 172.0,94.06 172.5,92.42 173.0,91.39 173.5,89.42 174.0,87.81 174.5,85.87 175.0,84.35 175.5,82.85 176.0,81.55 176.5,79.77 177.0,79.13 177.5,79.65 178.0,79.22 178.5,79.68 179.0,80.87 179.5,81.66 180.0,84.19 180.5,85.70 181.0,87.23 181.5,89.57 182.0,90.96 182.5,92.53 183.0,94.37 183.5,95.74 184.0,96.84 184.5,98.07 185.0,98.85 185.5,99.77 186.0,101.08 186.5,101.93 187.0,102.44 187.5,103.05 188.0,103.45 188.5,104.02 189.0,104.32 189.5,105.28 190.0,105.20 190.5,105.74 191.0,105.98 191.5,106.00 192.0,106.94 192.5,106.73 193.0,106.88 193.5,107.27 194.0,107.27 194.5,107.64 195.0,107.62 195.5,108.09 196.0,108.14 196.5,107.99 197.0,108.61 197.5,108.56 198.0,108.42 198.5,108.82 199.0,108.94 199.5,109.33 200.0,108.87 200.5,109.31 201.0,109.20 201.5,109.42 202.0,109.32 202.5,109.43 203.0,109.61 203.5,109.34 204.0,109.22 204.5,109.70 205.0,109.66 205.5,109.83 206.0,109.99 206.5,109.86 207.0,110.19 207.5,109.99 208.0,110.07 208.5,110.25 209.0,110.24 209.5,110.15 210.0,110.23 210.5,110.08 211.0,110.15 211.5,110.32 212.0,110.50 212.5,110.28 213.0,110.56 213.5,110.81 214.0,110.88 214.5,110.48 215.0,110.71 215.5,110.65 216.0,110.71 216.5,110.74 217.0,110.70 217.5,110.78 218.0,110.67 218.5,110.60 219.0,110.72 219.5,110.79 220.0,110.96 220.5,110.80 221.0,110.89 221.5,111.05 222.0,110.59 222.5,110.74 223.0,110.92 223.5,110.83 224.0,110.63 224.5,111.05 225.0,110.85 225.5,110.67 226.0,111.27 226.5,110.64 227.0,110.91 227.5,110.79 228.0,110.96 228.5,111.06 229.0,110.79 229.5,110.94 230.0,110.95 230.5,110.78 231.0,111.23 231.5,111.04 232.0,110.95 232.5,110.89 233.0,110.96 233.5,111.07 234.0,110.95 234.5,111.30 235.0,110.55 235.5,110.64 236.0,111.03 236.5,110.71 237.0,111.08 237.5,110.97 238.0,111.22 238.5,111.20 239.0,111.38 239.5,111.31 240.0,111.38 240.5,111.24 241.0,111.36 241.5,111.25 242.0,111.04 242.5,110.91 243.0,110.93 243.5,111.27 244.0,110.70 244.5,111.22 245.0,111.04 245.5,111.34 246.0,111.24 246.5,111.06 247.0,111.21 247.5,110.76 248.0,111.27 248.5,111.32 249.0,110.86 249.5,111.41 250.0,111.21 250.5,111.28 251.0,110.96 251.5,111.37 252.0,111.37 252.5,111.26 253.0,111.07 253.5,111.42 254.0,111.52 254.5,111.36 255.0,111.48 255.5,111.17 256.0,111.32 256.5,111.37 257.0,111.33 257.5,111.87 258.0,111.39 258.5,111.20 259.0,111.48 259.5,111.10 260.0,111.40 260.5,111.48 261.0,111.23 261.5,111.27 262.0,111.15 262.5,111.37 263.0,111.21 263.5,111.70 264.0,111.48 264.5,111.31 265.0,111.08 265.5,111.77 266.0,111.63 266.5,111.47 267.0,111.41 267.5,111.41 268.0,111.29 268.5,111.76 269.0,111.43 269.5,111.10 270.0,111.26 270.5,110.88 271.0,111.53 271.5,111.55 272.0,111.76 272.5,111.83 273.0,111.25 273.5,111.50 274.0,111.61 274.5,111.57 275.0,111.32 275.5,111.58 276.0,111.52 276.5,111.70 277.0,111.42 277.5,111.38 278.0,111.33 278.5,111.36 279.0,111.28 279.5,111.37 280.0,111.54 280.5,111.53 281.0,111.71 281.5,111.66 282.0,111.57 282.5,111.22 283.0,111.57 283.5,111.69 284.0,111.19 284.5,111.23 285.0,111.27 285.5,111.25 286.0,111.40 286.5,111.28 287.0,111.54 287.5,111.22 288.0,111.44 288.5,111.37 289.0,111.28 289.5,111.68 290.0,111.48 290.5,111.59 291.0,111.41 291.5,111.62 292.0,111.61 292.5,111.45 293.0,111.13 293.5,111.65 294.0,111.63 294.5,111.53 295.0,111.54 295.5,111.52 296.0,111.53 296.5,111.30 297.0,111.49 297.5,111.56 298.0,111.38 298.5,111.31 299.0,111.88 299.5,111.63 300.0,111.45 300.5,111.41 301.0,110.98 301.5,111.23 302.0,111.46 302.5,111.77 303.0,111.10 303.5,111.38 304.0,111.90 304.5,111.65 305.0,111.60 305.5,111.76 306.0,111.50 306.5,111.49 307.0,111.67 307.5,111.70 308.0,111.31 308.5,111.83 309.0,111.18 309.5,111.39 310.0,112.15 310.5,111.43 311.0,111.66 311.5,111.33 312.0,111.47 312.5,111.39 313.0,111.46 313.5,111.67 314.0,111.89 314.5,111.71 315.0,111.85 315.5,111.44 316.0,111.83 316.5,111.65 317.0,111.81 317.5,111.45 318.0,111.49 318.5,111.81 319.0,111.66 319.5,111.56 320.0,111.40 320.5,111.52 321.0,111.63 321.5,111.68 322.0,111.42 322.5,111.46 323.0,111.62 323.5,111.31 324.0,111.72 324.5,111.52 325.0,111.50 325.5,111.04 326.0,111.20 326.5,111.31 327.0,111.40 327.5,111.29 328.0,111.58 328.5,111.53 329.0,111.45 329.5,111.10 330.0,111.78 330.5,111.44 331.0,111.61 331.5,111.36 332.0,111.49 332.5,111.62 333.0,111.53 333.5,111.67 334.0,111.44 334.5,111.87 335.0,111.09 335.5,111.35 336.0,111.65 336.5,111.40 337.0,111.36 337.5,111.08 338.0,111.67 338.5,111.05 339.0,111.52 339.5,111.45 340.0,111.58 340.5,111.69 341.0,111.25 341.5,111.22 342.0,111.31 342.5,111.02 343.0,111.51 343.5,111.26 344.0,111.36 344.5,111.09 345.0,111.30 345.5,111.16 346.0,111.25 346.5,111.04 347.0,111.44 347.5,111.09 348.0,110.69 348.5,111.31 349.0,111.10 349.5,110.96 350.0,111.61 350.5,111.07 351.0,110.79 351.5,110.90 352.0,111.07 352.5,110.91 353.0,111.17 353.5,111.09 354.0,110.68 354.5,110.80 355.0,110.87 355.5,110.61 356.0,110.54 356.5,110.74 357.0,110.59 357.5,110.14 358.0,110.23 358.5,110.17 359.0,110.13 359.5,109.90 360.0,110.20 360.5,109.61 361.0,109.44 361.5,109.54 362.0,108.88 362.5,108.93 363.0,109.04 363.5,108.41 364.0,108.24 364.5,108.32 365.0,107.86 365.5,107.40 366.0,107.01 366.5,106.35 367.0,106.02 367.5,105.32 368.0,105.20 368.5,104.09 369.0,103.13 369.5,102.35 370.0,101.50 370.5,100.35 371.0,99.64 371.5,99.38 372.0,98.23 372.5,98.03 373.0,98.23 373.5,98.46 374.0,98.34 374.5,99.42 375.0,99.78 375.5,101.01 376.0,101.63 376.5,102.33 377.0,103.35 377.5,104.09 378.0,104.53 378.5,105.76 379.0,105.83 379.5,106.65 380.0,106.78 380.5,106.92 381.0,107.42 381.5,107.95 382.0,108.39 382.5,108.86 383.0,108.75 383.5,108.87 384.0,108.86 384.5,109.26 385.0,109.47 385.5,109.09 386.0,109.90 386.5,109.97 387.0,110.29 387.5,109.73 388.0,109.99 388.5,110.04 389.0,109.83 389.5,109.97 390.0,109.99 390.5,110.32 391.0,110.34 391.5,110.55 392.0,110.22 392.5,110.04 393.0,110.43 393.5,110.43 394.0,110.50 394.5,110.62 395.0,110.26 395.5,110.54 396.0,110.19 396.5,110.42 397.0,110.53 397.5,110.36 398.0,110.43 398.5,110.10 399.0,110.24 399.5,110.40 400.0,110.12 400.5,110.19 401.0,110.84 401.5,110.40 402.0,110.17 402.5,110.13 403.0,110.60 403.5,109.76 404.0,110.24 404.5,110.43 405.0,110.18 405.5,110.40 406.0,110.08 406.5,110.28 407.0,110.29 407.5,110.29 408.0,110.32 408.5,110.30 409.0,110.52 409.5,110.24 410.0,110.18 410.5,110.25 411.0,110.26 411.5,110.02 412.0,109.96 412.5,110.08 413.0,110.42 413.5,110.25 414.0,110.32 414.5,110.99 415.0,110.66 415.5,110.42 416.0,110.36 416.5,110.78 417.0,110.38 417.5,110.81 418.0,110.70 418.5,110.89 419.0,110.50 419.5,110.86 420.0,110.34 420.5,110.71 421.0,110.99 421.5,110.95 422.0,110.48 422.5,111.02 423.0,111.01 423.5,110.94 424.0,110.85 424.5,110.97 425.0,110.95 425.5,111.30 426.0,111.24 426.5,111.40 427.0,111.37 427.5,111.01 428.0,111.34 428.5,111.78 429.0,111.17 429.5,111.48 430.0,111.31 430.5,111.33 431.0,111.59 431.5,111.77 432.0,111.78 432.5,111.75 433.0,111.89 433.5,111.41 434.0,111.93 434.5,111.89 435.0,111.80 435.5,111.87 436.0,111.74 436.5,112.18 437.0,111.83 437.5,111.71 438.0,112.04 438.5,111.95 439.0,112.09 439.5,112.43 440.0,112.13 440.5,112.21 441.0,112.67 441.5,111.96 442.0,112.34 442.5,112.53 443.0,112.62 443.5,112.79 444.0,112.23 444.5,112.51 445.0,112.39 445.5,112.34 446.0,112.31 446.5,112.18 447.0,112.56 447.5,112.66 448.0,112.32 448.5,112.70 449.0,112.46 449.5,112.38 450.0,112.07 450.5,112.84 451.0,112.78 451.5,112.59 452.0,112.59 452.5,112.42 453.0,112.80 453.5,112.70 454.0,112.83 454.5,112.77 455.0,112.47 455.5,112.45 456.0,112.86 456.5,112.45 457.0,112.86 457.5,113.00 458.0,112.57 458.5,112.98 459.0,112.86 459.5,112.97 460.0,112.75" fill="none" stroke="#138A13" stroke-width="1.35" stroke-linejoin="round"/>
<polyline points="38.5,143.03 39.0,143.12 39.5,143.40 40.0,143.19 40.5,143.14 41.0,142.78 41.5,143.11 42.0,142.90 42.5,143.03 43.0,143.10 43.5,143.24 44.0,143.16 44.5,143.08 45.0,143.03 45.5,143.31 46.0,142.86 46.5,143.05 47.0,143.32 47.5,143.00 48.0,143.20 48.5,143.21 49.0,143.43 49.5,143.26 50.0,142.70 50.5,143.03 51.0,143.08 51.5,143.19 52.0,143.10 52.5,143.39 53.0,143.23 53.5,142.77 54.0,142.87 54.5,142.58 55.0,143.34 55.5,142.96 56.0,142.95 56.5,142.65 57.0,142.87 57.5,143.04 58.0,142.86 58.5,142.86 59.0,142.80 59.5,143.32 60.0,142.80 60.5,142.60 61.0,142.78 61.5,142.80 62.0,142.84 62.5,142.80 63.0,142.61 63.5,142.78 64.0,142.88 64.5,142.51 65.0,143.18 65.5,143.10 66.0,142.37 66.5,142.65 67.0,142.91 67.5,142.96 68.0,143.03 68.5,142.27 69.0,142.39 69.5,142.49 70.0,142.68 70.5,142.33 71.0,142.61 71.5,142.58 72.0,142.61 72.5,142.17 73.0,142.44 73.5,142.38 74.0,142.25 74.5,142.56 75.0,142.20 75.5,142.52 76.0,142.06 76.5,142.49 77.0,142.43 77.5,141.89 78.0,142.07 78.5,142.02 79.0,141.71 79.5,142.01 80.0,141.92 80.5,141.57 81.0,141.70 81.5,141.81 82.0,141.53 82.5,141.35 83.0,141.76 83.5,141.16 84.0,141.36 84.5,141.45 85.0,141.30 85.5,140.69 86.0,140.92 86.5,140.87 87.0,140.77 87.5,140.86 88.0,140.75 88.5,140.57 89.0,140.51 89.5,140.56 90.0,140.51 90.5,139.77 91.0,140.49 91.5,139.83 92.0,139.99 92.5,139.39 93.0,139.50 93.5,139.23 94.0,139.58 94.5,139.42 95.0,139.11 95.5,138.95 96.0,138.93 96.5,138.53 97.0,138.46 97.5,138.29 98.0,138.47 98.5,138.16 99.0,137.75 99.5,137.93 100.0,137.82 100.5,137.84 101.0,137.29 101.5,137.33 102.0,137.51 102.5,136.86 103.0,136.69 103.5,136.70 104.0,136.33 104.5,136.26 105.0,135.99 105.5,135.76 106.0,135.92 106.5,135.49 107.0,135.19 107.5,135.15 108.0,135.00 108.5,134.91 109.0,134.85 109.5,134.84 110.0,134.05 110.5,134.06 111.0,133.55 111.5,133.78 112.0,133.65 112.5,133.22 113.0,132.98 113.5,132.77 114.0,132.47 114.5,132.71 115.0,132.77 115.5,131.96 116.0,132.32 116.5,131.77 117.0,131.31 117.5,131.50 118.0,131.33 118.5,131.05 119.0,130.70 119.5,130.87 120.0,130.25 120.5,130.20 121.0,129.95 121.5,129.38 122.0,128.91 122.5,128.64 123.0,128.60 123.5,128.41 124.0,127.60 124.5,127.40 125.0,127.41 125.5,126.24 126.0,126.15 126.5,125.53 127.0,124.97 127.5,123.79 128.0,123.38 128.5,122.20 129.0,121.85 129.5,120.46 130.0,119.71 130.5,118.44 131.0,117.58 131.5,116.19 132.0,115.54 132.5,114.65 133.0,113.66 133.5,113.27 134.0,112.48 134.5,112.25 135.0,112.10 135.5,112.53 136.0,112.41 136.5,113.07 137.0,113.84 137.5,114.89 138.0,115.78 138.5,116.91 139.0,117.83 139.5,118.69 140.0,119.78 140.5,120.84 141.0,121.19 141.5,122.79 142.0,123.19 142.5,123.96 143.0,124.75 143.5,125.26 144.0,125.57 144.5,126.32 145.0,127.10 145.5,127.43 146.0,127.84 146.5,127.81 147.0,128.18 147.5,128.72 148.0,129.06 148.5,129.00 149.0,129.02 149.5,129.03 150.0,129.91 150.5,129.50 151.0,130.07 151.5,130.34 152.0,130.99 152.5,130.53 153.0,130.62 153.5,130.89 154.0,131.05 154.5,131.36 155.0,131.37 155.5,131.20 156.0,131.06 156.5,131.68 157.0,131.60 157.5,132.14 158.0,131.69 158.5,132.10 159.0,132.01 159.5,132.07 160.0,132.67 160.5,132.43 161.0,132.42 161.5,132.66 162.0,132.38 162.5,132.49 163.0,132.44 163.5,132.97 164.0,132.59 164.5,132.60 165.0,132.61 165.5,132.23 166.0,132.09 166.5,131.61 167.0,131.82 167.5,131.50 168.0,131.04 168.5,130.99 169.0,129.93 169.5,129.88 170.0,128.92 170.5,128.30 171.0,127.74 171.5,127.22 172.0,125.77 172.5,124.79 173.0,123.63 173.5,123.09 174.0,121.50 174.5,120.12 175.0,119.08 175.5,117.31 176.0,115.46 176.5,114.52 177.0,113.25 177.5,113.00 178.0,111.65 178.5,111.70 179.0,111.57 179.5,111.99 180.0,112.82 180.5,113.83 181.0,114.99 181.5,116.32 182.0,118.00 182.5,119.53 183.0,121.17 183.5,122.97 184.0,124.45 184.5,126.04 185.0,127.27 185.5,129.00 186.0,129.64 186.5,130.68 187.0,132.10 187.5,132.66 188.0,133.68 188.5,134.62 189.0,135.08 189.5,135.66 190.0,136.50 190.5,136.88 191.0,137.17 191.5,137.45 192.0,138.00 192.5,138.09 193.0,138.56 193.5,138.81 194.0,139.36 194.5,139.70 195.0,139.63 195.5,139.88 196.0,139.94 196.5,140.05 197.0,140.42 197.5,140.78 198.0,140.90 198.5,141.06 199.0,141.01 199.5,140.62 200.0,141.49 200.5,141.68 201.0,141.69 201.5,141.79 202.0,141.92 202.5,142.33 203.0,141.92 203.5,142.25 204.0,142.17 204.5,142.21 205.0,142.11 205.5,142.13 206.0,142.03 206.5,142.44 207.0,142.30 207.5,142.17 208.0,142.31 208.5,142.27 209.0,142.89 209.5,142.55 210.0,142.66 210.5,142.43 211.0,142.50 211.5,142.97 212.0,142.74 212.5,142.87 213.0,143.23 213.5,143.32 214.0,143.05 214.5,143.04 215.0,143.01 215.5,142.93 216.0,143.43 216.5,142.78 217.0,143.04 217.5,142.68 218.0,142.84 218.5,143.21 219.0,143.24 219.5,143.23 220.0,143.11 220.5,143.05 221.0,143.10 221.5,143.15 222.0,143.47 222.5,143.56 223.0,143.36 223.5,143.17 224.0,143.11 224.5,143.38 225.0,143.28 225.5,142.96 226.0,143.64 226.5,143.36 227.0,143.31 227.5,143.20 228.0,143.21 228.5,143.59 229.0,143.22 229.5,143.44 230.0,143.57 230.5,143.83 231.0,143.58 231.5,143.45 232.0,143.38 232.5,143.66 233.0,143.70 233.5,143.41 234.0,143.62 234.5,143.48 235.0,143.18 235.5,143.31 236.0,143.70 236.5,143.84 237.0,143.69 237.5,143.51 238.0,143.41 238.5,143.68 239.0,143.64 239.5,143.24 240.0,143.72 240.5,143.44 241.0,143.73 241.5,143.71 242.0,143.76 242.5,143.83 243.0,143.76 243.5,143.40 244.0,143.41 244.5,143.85 245.0,143.74 245.5,143.31 246.0,143.23 246.5,143.84 247.0,144.12 247.5,143.83 248.0,143.62 248.5,143.72 249.0,143.11 249.5,143.47 250.0,143.89 250.5,143.87 251.0,143.25 251.5,143.94 252.0,143.81 252.5,143.90 253.0,143.66 253.5,143.71 254.0,143.49 254.5,143.78 255.0,143.91 255.5,143.53 256.0,143.81 256.5,143.62 257.0,143.95 257.5,143.94 258.0,143.25 258.5,143.84 259.0,143.96 259.5,143.64 260.0,143.71 260.5,143.73 261.0,143.53 261.5,143.74 262.0,144.09 262.5,143.87 263.0,144.09 263.5,143.99 264.0,144.03 264.5,143.81 265.0,143.95 265.5,144.21 266.0,144.10 266.5,143.86 267.0,143.65 267.5,143.61 268.0,143.86 268.5,143.90 269.0,143.43 269.5,143.86 270.0,143.89 270.5,143.88 271.0,143.71 271.5,144.30 272.0,144.01 272.5,143.54 273.0,143.68 273.5,144.00 274.0,143.94 274.5,143.86 275.0,143.83 275.5,143.80 276.0,143.75 276.5,143.63 277.0,143.97 277.5,143.27 278.0,143.70 278.5,144.11 279.0,143.69 279.5,143.61 280.0,144.25 280.5,144.08 281.0,143.83 281.5,143.74 282.0,143.82 282.5,143.80 283.0,143.82 283.5,143.72 284.0,143.99 284.5,143.76 285.0,143.50 285.5,143.61 286.0,143.88 286.5,143.67 287.0,143.37 287.5,144.19 288.0,143.99 288.5,143.79 289.0,143.78 289.5,144.00 290.0,144.18 290.5,143.76 291.0,143.98 291.5,143.77 292.0,143.96 292.5,143.66 293.0,143.52 293.5,143.92 294.0,143.89 294.5,144.05 295.0,143.77 295.5,144.19 296.0,143.93 296.5,144.23 297.0,143.84 297.5,144.22 298.0,143.90 298.5,143.94 299.0,144.12 299.5,143.55 300.0,143.70 300.5,144.30 301.0,143.61 301.5,143.82 302.0,144.04 302.5,144.23 303.0,143.82 303.5,143.95 304.0,143.69 304.5,143.85 305.0,144.14 305.5,144.00 306.0,143.92 306.5,144.02 307.0,143.96 307.5,143.97 308.0,143.86 308.5,143.73 309.0,144.08 309.5,143.70 310.0,144.15 310.5,144.38 311.0,144.25 311.5,144.42 312.0,143.72 312.5,143.99 313.0,143.77 313.5,143.79 314.0,143.59 314.5,143.69 315.0,144.12 315.5,144.09 316.0,144.19 316.5,144.18 317.0,144.11 317.5,143.78 318.0,143.92 318.5,144.09 319.0,144.20 319.5,143.87 320.0,143.84 320.5,143.85 321.0,144.27 321.5,144.06 322.0,143.87 322.5,143.78 323.0,144.03 323.5,143.59 324.0,143.89 324.5,143.82 325.0,143.81 325.5,143.97 326.0,144.01 326.5,144.55 327.0,143.95 327.5,144.07 328.0,143.75 328.5,143.58 329.0,144.15 329.5,144.32 330.0,143.70 330.5,143.89 331.0,144.13 331.5,143.92 332.0,143.40 332.5,144.10 333.0,143.86 333.5,144.03 334.0,143.68 334.5,144.05 335.0,144.08 335.5,143.71 336.0,143.95 336.5,143.71 337.0,143.73 337.5,143.64 338.0,143.73 338.5,143.68 339.0,144.05 339.5,143.75 340.0,143.56 340.5,144.06 341.0,143.88 341.5,143.96 342.0,143.73 342.5,143.88 343.0,143.70 343.5,143.51 344.0,143.71 344.5,143.71 345.0,143.69 345.5,143.82 346.0,143.27 346.5,143.67 347.0,143.42 347.5,143.51 348.0,143.64 348.5,143.54 349.0,143.36 349.5,143.63 350.0,143.43 350.5,143.60 351.0,143.63 351.5,143.27 352.0,143.09 352.5,143.29 353.0,143.40 353.5,143.25 354.0,142.90 354.5,142.75 355.0,142.85 355.5,142.79 356.0,143.05 356.5,142.87 357.0,142.97 357.5,142.70 358.0,142.98 358.5,142.55 359.0,142.57 359.5,142.28 360.0,142.34 360.5,142.36 361.0,142.18 361.5,142.15 362.0,141.62 362.5,141.69 363.0,141.79 363.5,141.32 364.0,141.05 364.5,140.85 365.0,140.58 365.5,140.50 366.0,140.53 366.5,140.11 367.0,139.78 367.5,139.38 368.0,139.07 368.5,139.55 369.0,138.74 369.5,138.64 370.0,138.33 370.5,138.29 371.0,138.03 371.5,138.04 372.0,138.25 372.5,137.79 373.0,138.07 373.5,138.02 374.0,138.28 374.5,138.14 375.0,138.53 375.5,138.44 376.0,138.48 376.5,138.80 377.0,139.11 377.5,139.30 378.0,139.69 378.5,140.21 379.0,139.97 379.5,140.50 380.0,140.64 380.5,140.66 381.0,140.79 381.5,141.23 382.0,141.40 382.5,141.37 383.0,141.55 383.5,141.70 384.0,141.55 384.5,141.94 385.0,142.08 385.5,142.46 386.0,141.93 386.5,142.09 387.0,142.35 387.5,142.27 388.0,142.36 388.5,142.50 389.0,142.48 389.5,142.58 390.0,142.71 390.5,142.33 391.0,142.79 391.5,142.25 392.0,143.07 392.5,142.94 393.0,142.64 393.5,142.99 394.0,142.76 394.5,142.89 395.0,142.96 395.5,142.89 396.0,142.82 396.5,142.95 397.0,142.79 397.5,142.75 398.0,142.64 398.5,142.47 399.0,143.15 399.5,142.98 400.0,142.54 400.5,142.90 401.0,142.86 401.5,142.37 402.0,142.65 402.5,142.79 403.0,143.15 403.5,143.03 404.0,143.06 404.5,142.87 405.0,143.00 405.5,142.57 406.0,142.93 406.5,142.95 407.0,142.56 407.5,142.86 408.0,143.12 408.5,143.21 409.0,143.12 409.5,142.70 410.0,142.83 410.5,142.76 411.0,143.12 411.5,142.72 412.0,142.69 412.5,142.60 413.0,142.98 413.5,143.05 414.0,142.86 414.5,142.85 415.0,142.99 415.5,143.32 416.0,142.81 416.5,143.10 417.0,143.17 417.5,143.24 418.0,143.45 418.5,143.39 419.0,143.31 419.5,143.59 420.0,143.56 420.5,143.42 421.0,143.45 421.5,143.20 422.0,143.51 422.5,143.36 423.0,143.33 423.5,143.55 424.0,143.30 424.5,143.51 425.0,143.62 425.5,143.83 426.0,143.75 426.5,143.93 427.0,144.21 427.5,144.10 428.0,143.75 428.5,143.67 429.0,143.88 429.5,143.93 430.0,143.75 430.5,143.85 431.0,143.89 431.5,144.16 432.0,144.60 432.5,144.70 433.0,144.19 433.5,144.34 434.0,144.20 434.5,144.19 435.0,144.53 435.5,144.60 436.0,144.50 436.5,144.78 437.0,144.63 437.5,144.95 438.0,144.66 438.5,144.97 439.0,144.79 439.5,144.89 440.0,145.02 440.5,144.66 441.0,144.81 441.5,144.97 442.0,144.96 442.5,145.10 443.0,144.91 443.5,144.83 444.0,145.11 444.5,145.21 445.0,145.02 445.5,145.45 446.0,145.37 446.5,145.42 447.0,145.43 447.5,145.13 448.0,145.75 448.5,145.21 449.0,145.45 449.5,145.54 450.0,145.48 450.5,145.48 451.0,145.30 451.5,145.40 452.0,145.51 452.5,145.78 453.0,145.41 453.5,145.70 454.0,145.67 454.5,145.61 455.0,145.51 455.5,145.61 456.0,145.31 456.5,145.69 457.0,145.75 457.5,145.60 458.0,145.83 458.5,145.80 459.0,145.61 459.5,145.94 460.0,145.68" fill="none" stroke="#FF1010" stroke-width="1.35" stroke-linejoin="round"/>
<polyline points="38.5,172.16 39.0,171.47 39.5,171.51 40.0,171.55 40.5,171.72 41.0,171.91 41.5,171.69 42.0,171.59 42.5,172.05 43.0,171.87 43.5,171.61 44.0,171.65 44.5,171.36 45.0,171.67 45.5,172.01 46.0,171.43 46.5,171.38 47.0,171.68 47.5,171.18 48.0,171.93 48.5,171.35 49.0,171.50 49.5,171.61 50.0,171.88 50.5,171.71 51.0,171.25 51.5,171.29 52.0,171.66 52.5,171.20 53.0,171.55 53.5,171.44 54.0,171.76 54.5,171.83 55.0,171.08 55.5,171.66 56.0,171.70 56.5,171.41 57.0,171.44 57.5,171.31 58.0,171.47 58.5,171.61 59.0,171.79 59.5,171.80 60.0,171.44 60.5,171.32 61.0,171.67 61.5,170.91 62.0,171.17 62.5,171.56 63.0,171.86 63.5,171.25 64.0,171.41 64.5,171.15 65.0,171.34 65.5,171.32 66.0,171.16 66.5,171.37 67.0,171.24 67.5,171.35 68.0,171.19 68.5,170.96 69.0,171.21 69.5,171.32 70.0,170.97 70.5,171.36 71.0,171.15 71.5,170.96 72.0,171.00 72.5,170.88 73.0,170.74 73.5,171.07 74.0,171.03 74.5,170.71 75.0,170.72 75.5,170.67 76.0,170.81 76.5,170.91 77.0,170.44 77.5,170.58 78.0,170.46 78.5,170.51 79.0,170.63 79.5,170.11 80.0,169.81 80.5,170.12 81.0,169.76 81.5,170.35 82.0,169.80 82.5,169.81 83.0,169.83 83.5,169.75 84.0,169.54 84.5,169.53 85.0,169.63 85.5,169.29 86.0,169.63 86.5,169.23 87.0,168.59 87.5,169.14 88.0,168.50 88.5,168.81 89.0,169.08 89.5,168.73 90.0,168.17 90.5,168.11 91.0,168.15 91.5,168.31 92.0,167.75 92.5,167.98 93.0,167.68 93.5,167.46 94.0,167.30 94.5,167.53 95.0,166.74 95.5,166.66 96.0,166.91 96.5,166.77 97.0,166.15 97.5,166.06 98.0,165.84 98.5,166.01 99.0,165.60 99.5,165.83 100.0,165.52 100.5,165.24 101.0,165.04 101.5,164.92 102.0,164.79 102.5,164.43 103.0,164.28 103.5,164.19 104.0,163.81 104.5,163.82 105.0,163.39 105.5,163.06 106.0,163.04 106.5,163.12 107.0,162.88 107.5,162.04 108.0,162.20 108.5,161.83 109.0,161.64 109.5,161.41 110.0,161.21 110.5,160.93 111.0,160.75 111.5,160.63 112.0,160.11 112.5,159.87 113.0,159.66 113.5,159.43 114.0,159.54 114.5,158.96 115.0,158.92 115.5,158.70 116.0,158.58 116.5,158.18 117.0,158.13 117.5,157.63 118.0,157.41 118.5,157.22 119.0,156.48 119.5,156.53 120.0,156.43 120.5,155.80 121.0,155.36 121.5,155.40 122.0,154.63 122.5,154.43 123.0,153.25 123.5,153.27 124.0,152.64 124.5,152.28 125.0,151.89 125.5,151.04 126.0,150.42 126.5,149.28 127.0,149.36 127.5,148.81 128.0,147.91 128.5,147.12 129.0,146.63 129.5,146.10 130.0,145.39 130.5,145.06 131.0,143.95 131.5,143.25 132.0,143.13 132.5,142.86 133.0,142.15 133.5,141.95 134.0,141.61 134.5,141.37 135.0,141.43 135.5,141.21 136.0,141.82 136.5,142.07 137.0,142.44 137.5,142.45 138.0,142.91 138.5,143.16 139.0,143.72 139.5,144.73 140.0,145.69 140.5,145.50 141.0,146.23 141.5,147.10 142.0,147.37 142.5,148.22 143.0,148.62 143.5,149.18 144.0,149.97 144.5,150.26 145.0,150.56 145.5,151.45 146.0,151.75 146.5,152.06 147.0,152.41 147.5,153.07 148.0,153.17 148.5,153.67 149.0,154.17 149.5,154.24 150.0,154.77 150.5,154.55 151.0,155.20 151.5,155.44 152.0,155.94 152.5,155.80 153.0,156.20 153.5,156.21 154.0,156.24 154.5,156.49 155.0,156.73 155.5,157.23 156.0,157.12 156.5,157.48 157.0,157.85 157.5,158.11 158.0,158.25 158.5,158.55 159.0,158.21 159.5,158.53 160.0,158.87 160.5,159.21 161.0,159.26 161.5,159.17 162.0,159.45 162.5,159.30 163.0,159.94 163.5,159.54 164.0,160.06 164.5,160.32 165.0,160.36 165.5,159.90 166.0,160.29 166.5,160.16 167.0,160.12 167.5,160.41 168.0,159.99 168.5,159.44 169.0,159.26 169.5,159.29 170.0,158.81 170.5,158.07 171.0,157.43 171.5,157.05 172.0,156.39 172.5,155.89 173.0,154.78 173.5,154.15 174.0,153.32 174.5,151.78 175.0,150.98 175.5,150.39 176.0,148.99 176.5,148.10 177.0,147.38 177.5,146.20 178.0,145.55 178.5,144.72 179.0,144.76 179.5,144.34 180.0,144.37 180.5,144.14 181.0,145.28 181.5,145.85 182.0,146.37 182.5,147.73 183.0,148.09 183.5,149.75 184.0,150.68 184.5,152.85 185.0,153.09 185.5,154.67 186.0,156.04 186.5,157.60 187.0,158.80 187.5,159.85 188.0,160.79 188.5,162.27 189.0,162.62 189.5,163.68 190.0,164.74 190.5,164.85 191.0,165.56 191.5,166.52 192.0,166.89 192.5,166.99 193.0,167.66 193.5,168.39 194.0,168.27 194.5,168.76 195.0,168.87 195.5,168.92 196.0,169.57 196.5,169.62 197.0,169.82 197.5,169.68 198.0,169.86 198.5,170.00 199.0,170.15 199.5,170.09 200.0,170.15 200.5,170.59 201.0,170.19 201.5,170.39 202.0,170.47 202.5,170.51 203.0,170.43 203.5,170.58 204.0,170.95 204.5,170.77 205.0,170.74 205.5,171.27 206.0,170.71 206.5,171.23 207.0,171.14 207.5,170.83 208.0,171.06 208.5,171.10 209.0,171.47 209.5,171.43 210.0,171.22 210.5,171.07 211.0,170.99 211.5,171.33 212.0,171.10 212.5,171.37 213.0,171.39 213.5,171.53 214.0,171.68 214.5,171.52 215.0,171.61 215.5,171.50 216.0,171.76 216.5,171.73 217.0,171.90 217.5,171.88 218.0,171.47 218.5,171.33 219.0,171.77 219.5,171.88 220.0,171.53 220.5,171.98 221.0,171.71 221.5,171.68 222.0,171.78 222.5,171.44 223.0,171.40 223.5,171.67 224.0,171.51 224.5,171.75 225.0,171.76 225.5,171.25 226.0,171.61 226.5,171.89 227.0,171.32 227.5,171.72 228.0,171.53 228.5,171.41 229.0,172.03 229.5,172.03 230.0,171.73 230.5,171.72 231.0,172.11 231.5,172.07 232.0,171.84 232.5,172.02 233.0,171.87 233.5,171.79 234.0,171.98 234.5,171.77 235.0,171.98 235.5,171.81 236.0,171.78 236.5,171.76 237.0,171.96 237.5,172.06 238.0,171.96 238.5,171.71 239.0,172.01 239.5,171.71 240.0,171.66 240.5,171.85 241.0,172.06 241.5,172.04 242.0,172.01 242.5,172.18 243.0,172.08 243.5,171.84 244.0,172.07 244.5,171.86 245.0,172.00 245.5,172.04 246.0,171.91 246.5,171.63 247.0,171.90 247.5,171.87 248.0,171.91 248.5,171.85 249.0,171.71 249.5,171.62 250.0,172.07 250.5,172.10 251.0,172.02 251.5,171.94 252.0,172.34 252.5,172.08 253.0,171.95 253.5,172.12 254.0,171.94 254.5,172.09 255.0,172.01 255.5,172.06 256.0,171.97 256.5,171.87 257.0,172.06 257.5,172.19 258.0,171.78 258.5,171.86 259.0,171.75 259.5,172.14 260.0,171.93 260.5,172.15 261.0,171.81 261.5,172.14 262.0,171.86 262.5,171.88 263.0,172.08 263.5,171.90 264.0,171.86 264.5,172.16 265.0,171.97 265.5,172.23 266.0,172.48 266.5,171.87 267.0,171.91 267.5,171.68 268.0,171.75 268.5,172.10 269.0,172.04 269.5,172.04 270.0,172.08 270.5,171.82 271.0,171.65 271.5,172.20 272.0,172.04 272.5,172.21 273.0,171.98 273.5,172.14 274.0,171.88 274.5,171.99 275.0,171.96 275.5,172.06 276.0,172.27 276.5,172.12 277.0,171.42 277.5,171.97 278.0,171.99 278.5,172.15 279.0,172.02 279.5,171.85 280.0,171.83 280.5,171.92 281.0,171.85 281.5,172.27 282.0,172.11 282.5,172.00 283.0,172.18 283.5,172.42 284.0,171.95 284.5,171.98 285.0,171.93 285.5,171.75 286.0,171.86 286.5,171.80 287.0,172.08 287.5,172.08 288.0,172.16 288.5,171.83 289.0,172.18 289.5,171.79 290.0,171.95 290.5,172.24 291.0,172.23 291.5,172.20 292.0,172.40 292.5,172.19 293.0,171.93 293.5,171.94 294.0,171.83 294.5,172.02 295.0,171.83 295.5,171.85 296.0,171.78 296.5,171.64 297.0,172.46 297.5,172.15 298.0,171.56 298.5,172.06 299.0,171.86 299.5,171.54 300.0,171.92 300.5,172.01 301.0,172.08 301.5,172.18 302.0,171.79 302.5,171.95 303.0,172.09 303.5,172.06 304.0,172.03 304.5,171.97 305.0,172.19 305.5,171.70 306.0,171.65 306.5,172.29 307.0,172.02 307.5,172.16 308.0,171.98 308.5,171.86 309.0,171.84 309.5,171.96 310.0,171.83 310.5,171.91 311.0,171.90 311.5,172.08 312.0,172.07 312.5,172.23 313.0,171.77 313.5,171.90 314.0,172.09 314.5,171.97 315.0,171.42 315.5,171.97 316.0,171.89 316.5,171.79 317.0,171.80 317.5,171.74 318.0,172.11 318.5,172.01 319.0,171.91 319.5,172.09 320.0,172.05 320.5,171.69 321.0,171.65 321.5,171.65 322.0,171.99 322.5,171.84 323.0,172.07 323.5,171.93 324.0,171.78 324.5,171.57 325.0,171.76 325.5,172.25 326.0,171.66 326.5,171.63 327.0,171.74 327.5,172.05 328.0,171.77 328.5,171.55 329.0,171.64 329.5,171.72 330.0,171.76 330.5,171.94 331.0,172.22 331.5,171.99 332.0,171.84 332.5,171.70 333.0,171.53 333.5,171.80 334.0,171.92 334.5,171.83 335.0,171.63 335.5,171.77 336.0,171.59 336.5,171.59 337.0,171.56 337.5,171.61 338.0,171.57 338.5,171.77 339.0,171.56 339.5,171.53 340.0,171.74 340.5,171.66 341.0,171.73 341.5,171.34 342.0,171.73 342.5,171.46 343.0,171.24 343.5,171.40 344.0,171.17 344.5,171.20 345.0,171.30 345.5,171.55 346.0,171.08 346.5,171.38 347.0,171.26 347.5,171.60 348.0,171.31 348.5,171.37 349.0,171.51 349.5,171.00 350.0,171.13 350.5,170.88 351.0,170.99 351.5,171.19 352.0,171.07 352.5,171.16 353.0,170.98 353.5,170.90 354.0,170.99 354.5,170.82 355.0,170.75 355.5,170.63 356.0,170.89 356.5,170.98 357.0,170.63 357.5,170.75 358.0,170.37 358.5,170.56 359.0,170.78 359.5,170.49 360.0,170.80 360.5,170.61 361.0,170.73 361.5,170.53 362.0,170.34 362.5,170.59 363.0,170.71 363.5,170.44 364.0,170.59 364.5,170.36 365.0,170.41 365.5,170.69 366.0,170.43 366.5,170.23 367.0,170.50 367.5,170.38 368.0,170.25 368.5,170.47 369.0,169.76 369.5,170.41 370.0,170.66 370.5,170.33 371.0,169.89 371.5,170.51 372.0,170.72 372.5,170.34 373.0,170.01 373.5,170.07 374.0,170.17 374.5,170.23 375.0,170.41 375.5,170.29 376.0,169.74 376.5,170.11 377.0,170.14 377.5,170.52 378.0,170.05 378.5,169.89 379.0,170.10 379.5,170.21 380.0,169.80 380.5,170.36 381.0,170.13 381.5,170.32 382.0,170.29 382.5,170.27 383.0,170.44 383.5,170.49 384.0,170.10 384.5,170.17 385.0,170.39 385.5,170.22 386.0,170.08 386.5,170.22 387.0,170.04 387.5,170.12 388.0,169.55 388.5,170.25 389.0,170.59 389.5,170.38 390.0,170.38 390.5,170.29 391.0,170.11 391.5,170.37 392.0,170.29 392.5,170.26 393.0,170.34 393.5,170.19 394.0,170.34 394.5,170.45 395.0,170.52 395.5,170.37 396.0,170.51 396.5,170.39 397.0,169.93 397.5,170.00 398.0,170.35 398.5,170.18 399.0,170.52 399.5,170.17 400.0,170.36 400.5,170.34 401.0,170.32 401.5,170.36 402.0,170.49 402.5,170.52 403.0,170.42 403.5,170.57 404.0,170.66 404.5,170.53 405.0,170.45 405.5,170.47 406.0,170.53 406.5,170.54 407.0,170.68 407.5,171.20 408.0,170.92 408.5,170.73 409.0,170.86 409.5,170.88 410.0,171.03 410.5,171.09 411.0,170.65 411.5,171.29 412.0,170.72 412.5,170.93 413.0,170.77 413.5,170.63 414.0,170.64 414.5,171.40 415.0,171.33 415.5,170.87 416.0,170.88 416.5,171.41 417.0,170.96 417.5,171.27 418.0,171.60 418.5,171.38 419.0,171.55 419.5,171.33 420.0,170.99 420.5,171.19 421.0,171.03 421.5,171.47 422.0,171.18 422.5,171.49 423.0,171.39 423.5,171.39 424.0,171.65 424.5,171.49 425.0,171.45 425.5,171.83 426.0,171.66 426.5,171.40 427.0,171.95 427.5,171.47 428.0,171.82 428.5,171.91 429.0,171.78 429.5,171.70 430.0,171.82 430.5,171.85 431.0,171.73 431.5,172.14 432.0,171.88 432.5,171.88 433.0,172.32 433.5,171.93 434.0,171.79 434.5,172.11 435.0,172.15 435.5,172.17 436.0,172.60 436.5,172.11 437.0,172.50 437.5,172.43 438.0,172.57 438.5,172.29 439.0,172.26 439.5,172.31 440.0,172.43 440.5,172.58 441.0,172.74 441.5,172.08 442.0,172.66 442.5,172.54 443.0,172.50 443.5,172.30 444.0,172.59 444.5,172.18 445.0,172.80 445.5,172.39 446.0,172.57 446.5,172.58 447.0,172.74 447.5,172.38 448.0,172.82 448.5,172.75 449.0,172.99 449.5,172.76 450.0,172.69 450.5,172.35 451.0,172.67 451.5,173.08 452.0,172.68 452.5,172.68 453.0,172.76 453.5,172.97 454.0,172.47 454.5,173.18 455.0,172.96 455.5,172.99 456.0,172.86 456.5,173.26 457.0,172.80 457.5,173.06 458.0,172.93 458.5,172.67 459.0,172.90 459.5,173.08 460.0,172.89" fill="none" stroke="#1F3A82" stroke-width="1.35" stroke-linejoin="round"/>
<polyline points="38.5,202.48 39.0,202.56 39.5,202.39 40.0,202.35 40.5,202.58 41.0,202.38 41.5,202.68 42.0,202.71 42.5,202.82 43.0,202.76 43.5,202.51 44.0,202.65 44.5,202.34 45.0,202.65 45.5,202.47 46.0,202.83 46.5,202.43 47.0,202.60 47.5,202.41 48.0,202.69 48.5,202.69 49.0,202.36 49.5,202.94 50.0,202.65 50.5,202.27 51.0,202.37 51.5,202.19 52.0,202.15 52.5,202.51 53.0,202.12 53.5,202.60 54.0,202.20 54.5,202.44 55.0,202.85 55.5,202.44 56.0,202.49 56.5,202.74 57.0,202.42 57.5,202.58 58.0,202.31 58.5,202.38 59.0,202.47 59.5,202.44 60.0,202.27 60.5,202.46 61.0,202.52 61.5,202.51 62.0,202.38 62.5,202.17 63.0,202.48 63.5,202.49 64.0,202.11 64.5,201.84 65.0,202.23 65.5,202.45 66.0,202.40 66.5,201.97 67.0,202.44 67.5,201.98 68.0,202.31 68.5,202.02 69.0,202.27 69.5,202.14 70.0,201.97 70.5,202.12 71.0,201.82 71.5,201.84 72.0,201.81 72.5,201.67 73.0,201.98 73.5,201.94 74.0,201.71 74.5,201.47 75.0,201.71 75.5,201.62 76.0,201.64 76.5,201.46 77.0,201.37 77.5,201.63 78.0,201.18 78.5,201.20 79.0,200.82 79.5,201.03 80.0,200.94 80.5,200.90 81.0,201.01 81.5,200.70 82.0,200.83 82.5,200.59 83.0,200.50 83.5,200.13 84.0,200.49 84.5,200.45 85.0,200.04 85.5,200.02 86.0,199.68 86.5,199.86 87.0,199.61 87.5,199.80 88.0,199.59 88.5,199.62 89.0,199.22 89.5,198.93 90.0,199.13 90.5,198.91 91.0,199.26 91.5,198.81 92.0,198.92 92.5,198.61 93.0,198.30 93.5,197.92 94.0,198.03 94.5,198.06 95.0,197.80 95.5,197.70 96.0,197.54 96.5,197.06 97.0,197.22 97.5,196.84 98.0,196.82 98.5,196.93 99.0,196.10 99.5,196.26 100.0,196.20 100.5,196.17 101.0,195.79 101.5,195.42 102.0,195.55 102.5,195.32 103.0,194.67 103.5,194.84 104.0,194.29 104.5,193.91 105.0,194.04 105.5,193.85 106.0,193.41 106.5,193.99 107.0,193.16 107.5,193.28 108.0,193.14 108.5,193.22 109.0,192.50 109.5,192.67 110.0,191.91 110.5,191.91 111.0,191.62 111.5,191.28 112.0,191.31 112.5,191.40 113.0,191.20 113.5,190.68 114.0,190.08 114.5,189.90 115.0,189.93 115.5,189.66 116.0,189.39 116.5,188.95 117.0,188.54 117.5,188.52 118.0,188.12 118.5,188.08 119.0,187.33 119.5,187.29 120.0,187.03 120.5,186.78 121.0,186.38 121.5,185.37 122.0,184.91 122.5,184.72 123.0,184.05 123.5,183.27 124.0,183.54 124.5,182.84 125.0,182.42 125.5,181.72 126.0,181.38 126.5,180.66 127.0,180.10 127.5,179.93 128.0,178.79 128.5,178.63 129.0,177.74 129.5,177.91 130.0,177.15 130.5,176.59 131.0,176.16 131.5,176.22 132.0,176.46 132.5,176.03 133.0,175.55 133.5,175.46 134.0,176.50 134.5,175.94 135.0,175.95 135.5,176.51 136.0,176.88 136.5,177.40 137.0,177.40 137.5,177.67 138.0,178.36 138.5,178.47 139.0,179.13 139.5,179.53 140.0,180.12 140.5,180.21 141.0,180.64 141.5,181.24 142.0,181.68 142.5,181.68 143.0,182.18 143.5,182.74 144.0,182.97 144.5,183.83 145.0,183.83 145.5,184.23 146.0,184.25 146.5,184.55 147.0,184.81 147.5,185.24 148.0,185.19 148.5,185.80 149.0,185.55 149.5,186.11 150.0,186.16 150.5,186.23 151.0,186.81 151.5,186.87 152.0,186.82 152.5,186.88 153.0,187.38 153.5,187.23 154.0,187.68 154.5,187.56 155.0,187.93 155.5,187.91 156.0,188.21 156.5,188.75 157.0,188.94 157.5,188.66 158.0,188.86 158.5,188.74 159.0,189.30 159.5,189.62 160.0,189.37 160.5,189.51 161.0,189.91 161.5,189.86 162.0,190.14 162.5,190.53 163.0,190.42 163.5,190.56 164.0,190.89 164.5,190.62 165.0,190.75 165.5,190.64 166.0,190.46 166.5,190.88 167.0,190.19 167.5,190.35 168.0,189.91 168.5,189.73 169.0,189.32 169.5,189.15 170.0,188.83 170.5,188.45 171.0,187.18 171.5,186.89 172.0,185.95 172.5,185.01 173.0,184.13 173.5,183.13 174.0,181.94 174.5,180.78 175.0,180.00 175.5,178.37 176.0,177.22 176.5,175.81 177.0,175.25 177.5,174.09 178.0,173.55 178.5,173.06 179.0,173.13 179.5,173.21 180.0,173.68 180.5,174.48 181.0,175.75 181.5,177.07 182.0,178.60 182.5,180.27 183.0,181.83 183.5,182.86 184.0,184.36 184.5,186.11 185.0,187.19 185.5,188.92 186.0,190.15 186.5,190.91 187.0,192.31 187.5,193.43 188.0,194.12 188.5,194.77 189.0,195.52 189.5,196.29 190.0,196.62 190.5,197.35 191.0,197.69 191.5,198.00 192.0,198.32 192.5,198.95 193.0,198.94 193.5,199.43 194.0,199.25 194.5,199.79 195.0,200.05 195.5,200.28 196.0,200.56 196.5,200.63 197.0,200.78 197.5,200.75 198.0,200.72 198.5,200.81 199.0,201.00 199.5,201.31 200.0,201.56 200.5,201.52 201.0,201.58 201.5,201.78 202.0,201.64 202.5,201.82 203.0,201.84 203.5,201.97 204.0,201.95 204.5,201.80 205.0,202.05 205.5,202.02 206.0,202.58 206.5,202.57 207.0,202.22 207.5,202.22 208.0,202.44 208.5,202.19 209.0,202.77 209.5,202.56 210.0,202.51 210.5,202.85 211.0,202.93 211.5,202.74 212.0,202.95 212.5,202.45 213.0,202.66 213.5,202.67 214.0,202.54 214.5,203.06 215.0,203.39 215.5,202.68 216.0,202.85 216.5,203.20 217.0,202.95 217.5,203.03 218.0,202.89 218.5,203.14 219.0,202.90 219.5,203.26 220.0,203.23 220.5,203.22 221.0,203.01 221.5,203.13 222.0,203.28 222.5,203.03 223.0,203.02 223.5,202.78 224.0,203.14 224.5,203.22 225.0,203.45 225.5,203.04 226.0,203.00 226.5,203.54 227.0,203.53 227.5,203.09 228.0,203.23 228.5,202.98 229.0,203.33 229.5,203.61 230.0,203.52 230.5,203.16 231.0,203.44 231.5,203.25 232.0,203.46 232.5,203.30 233.0,203.54 233.5,203.67 234.0,203.49 234.5,203.50 235.0,203.52 235.5,203.62 236.0,203.37 236.5,203.42 237.0,203.43 237.5,203.73 238.0,203.51 238.5,203.59 239.0,203.41 239.5,203.22 240.0,203.44 240.5,203.60 241.0,203.44 241.5,203.40 242.0,203.44 242.5,203.62 243.0,203.61 243.5,203.53 244.0,203.35 244.5,203.40 245.0,204.25 245.5,203.51 246.0,203.67 246.5,203.61 247.0,203.28 247.5,203.82 248.0,203.58 248.5,203.39 249.0,203.72 249.5,203.46 250.0,203.64 250.5,203.32 251.0,203.55 251.5,203.72 252.0,203.50 252.5,203.32 253.0,203.44 253.5,203.73 254.0,203.29 254.5,203.33 255.0,203.76 255.5,203.63 256.0,203.61 256.5,203.53 257.0,203.70 257.5,203.79 258.0,203.71 258.5,203.28 259.0,203.76 259.5,203.31 260.0,203.98 260.5,203.55 261.0,203.76 261.5,203.71 262.0,203.52 262.5,203.89 263.0,203.70 263.5,204.08 264.0,203.79 264.5,203.73 265.0,204.16 265.5,203.95 266.0,203.68 266.5,203.52 267.0,204.06 267.5,203.93 268.0,203.93 268.5,203.63 269.0,203.57 269.5,203.52 270.0,203.92 270.5,203.67 271.0,203.83 271.5,203.27 272.0,203.91 272.5,203.56 273.0,203.17 273.5,203.45 274.0,203.79 274.5,204.01 275.0,203.16 275.5,203.44 276.0,203.74 276.5,203.40 277.0,203.63 277.5,203.51 278.0,203.73 278.5,203.42 279.0,203.65 279.5,203.55 280.0,203.74 280.5,203.71 281.0,203.92 281.5,203.77 282.0,204.08 282.5,203.41 283.0,203.68 283.5,203.88 284.0,203.75 284.5,203.21 285.0,203.80 285.5,203.64 286.0,204.23 286.5,203.72 287.0,203.88 287.5,203.55 288.0,203.88 288.5,203.19 289.0,203.54 289.5,203.67 290.0,203.43 290.5,203.94 291.0,203.75 291.5,204.08 292.0,203.47 292.5,203.58 293.0,203.88 293.5,203.65 294.0,203.92 294.5,203.88 295.0,203.60 295.5,203.78 296.0,203.86 296.5,203.80 297.0,203.71 297.5,203.66 298.0,203.71 298.5,203.95 299.0,204.17 299.5,203.47 300.0,203.55 300.5,203.72 301.0,204.05 301.5,203.58 302.0,204.23 302.5,204.22 303.0,203.28 303.5,203.89 304.0,203.88 304.5,203.67 305.0,203.38 305.5,203.81 306.0,203.68 306.5,203.99 307.0,203.87 307.5,203.57 308.0,204.15 308.5,204.12 309.0,204.06 309.5,203.77 310.0,203.94 310.5,203.77 311.0,203.64 311.5,203.37 312.0,203.81 312.5,203.35 313.0,203.89 313.5,203.47 314.0,203.79 314.5,203.68 315.0,203.51 315.5,203.53 316.0,203.62 316.5,204.03 317.0,203.80 317.5,203.67 318.0,203.89 318.5,203.48 319.0,203.41 319.5,203.53 320.0,203.92 320.5,203.64 321.0,203.72 321.5,203.72 322.0,203.60 322.5,203.94 323.0,203.82 323.5,203.50 324.0,203.46 324.5,203.66 325.0,203.47 325.5,203.65 326.0,203.80 326.5,203.65 327.0,203.68 327.5,203.53 328.0,203.46 328.5,203.41 329.0,203.88 329.5,203.45 330.0,203.62 330.5,203.61 331.0,203.68 331.5,203.51 332.0,203.24 332.5,203.99 333.0,203.34 333.5,203.67 334.0,203.32 334.5,203.66 335.0,203.30 335.5,203.86 336.0,203.60 336.5,203.17 337.0,203.83 337.5,203.08 338.0,203.39 338.5,203.68 339.0,203.36 339.5,203.69 340.0,203.42 340.5,203.28 341.0,203.64 341.5,203.38 342.0,203.26 342.5,203.54 343.0,203.28 343.5,203.04 344.0,203.15 344.5,203.79 345.0,203.74 345.5,202.93 346.0,203.40 346.5,203.47 347.0,203.15 347.5,203.32 348.0,202.96 348.5,203.08 349.0,203.34 349.5,203.10 350.0,203.06 350.5,203.02 351.0,202.77 351.5,202.82 352.0,202.89 352.5,202.95 353.0,202.78 353.5,203.32 354.0,202.55 354.5,202.67 355.0,202.73 355.5,202.95 356.0,202.52 356.5,202.84 357.0,202.59 357.5,202.58 358.0,202.80 358.5,202.86 359.0,202.88 359.5,202.40 360.0,202.83 360.5,202.80 361.0,202.63 361.5,202.63 362.0,202.52 362.5,202.45 363.0,202.63 363.5,202.77 364.0,202.35 364.5,202.45 365.0,202.54 365.5,202.04 366.0,202.64 366.5,202.35 367.0,202.55 367.5,202.17 368.0,202.02 368.5,202.14 369.0,202.21 369.5,201.93 370.0,202.29 370.5,202.13 371.0,201.84 371.5,202.13 372.0,201.98 372.5,202.00 373.0,201.89 373.5,201.80 374.0,201.68 374.5,201.94 375.0,201.91 375.5,201.98 376.0,201.72 376.5,201.94 377.0,202.01 377.5,201.58 378.0,201.85 378.5,202.25 379.0,201.68 379.5,201.70 380.0,201.75 380.5,201.64 381.0,201.92 381.5,201.72 382.0,201.71 382.5,201.56 383.0,201.83 383.5,201.70 384.0,201.64 384.5,201.65 385.0,202.05 385.5,201.72 386.0,201.78 386.5,202.01 387.0,201.72 387.5,201.94 388.0,201.54 388.5,201.89 389.0,201.33 389.5,201.81 390.0,201.70 390.5,201.66 391.0,202.04 391.5,201.98 392.0,202.02 392.5,202.17 393.0,201.99 393.5,202.01 394.0,201.90 394.5,202.32 395.0,202.14 395.5,201.82 396.0,201.82 396.5,201.87 397.0,201.89 397.5,202.33 398.0,202.15 398.5,202.34 399.0,201.99 399.5,202.02 400.0,202.45 400.5,201.82 401.0,202.01 401.5,201.86 402.0,202.18 402.5,202.88 403.0,202.22 403.5,202.63 404.0,202.78 404.5,202.34 405.0,202.37 405.5,202.61 406.0,202.72 406.5,202.30 407.0,202.49 407.5,203.02 408.0,202.56 408.5,202.84 409.0,203.01 409.5,202.77 410.0,202.84 410.5,202.80 411.0,202.81 411.5,202.86 412.0,202.69 412.5,202.96 413.0,203.05 413.5,203.28 414.0,203.09 414.5,203.08 415.0,203.63 415.5,203.28 416.0,203.28 416.5,203.26 417.0,203.40 417.5,203.26 418.0,203.37 418.5,203.34 419.0,203.30 419.5,203.50 420.0,203.35 420.5,204.01 421.0,203.46 421.5,204.09 422.0,203.84 422.5,203.99 423.0,204.14 423.5,203.54 424.0,204.24 424.5,204.05 425.0,203.88 425.5,203.86 426.0,204.12 426.5,203.76 427.0,204.48 427.5,204.12 428.0,204.34 428.5,204.24 429.0,204.16 429.5,204.20 430.0,204.13 430.5,204.59 431.0,204.37 431.5,204.50 432.0,204.52 432.5,204.59 433.0,204.58 433.5,204.77 434.0,204.41 434.5,204.37 435.0,204.57 435.5,204.55 436.0,204.66 436.5,204.91 437.0,204.89 437.5,204.83 438.0,204.59 438.5,204.87 439.0,204.83 439.5,204.97 440.0,204.84 440.5,204.78 441.0,204.91 441.5,204.76 442.0,204.75 442.5,204.99 443.0,204.96 443.5,205.18 444.0,205.03 444.5,204.79 445.0,205.32 445.5,205.39 446.0,204.86 446.5,204.98 447.0,205.31 447.5,205.17 448.0,204.85 448.5,205.39 449.0,205.20 449.5,205.27 450.0,205.45 450.5,205.10 451.0,205.10 451.5,205.40 452.0,205.47 452.5,205.32 453.0,205.54 453.5,205.41 454.0,205.56 454.5,205.19 455.0,205.33 455.5,205.60 456.0,205.23 456.5,205.26 457.0,205.46 457.5,205.39 458.0,205.27 458.5,205.14 459.0,205.75 459.5,205.51 460.0,205.79" fill="none" stroke="#000000" stroke-width="1.35" stroke-linejoin="round"/>
<path d="M56.0 292.3H430.2M56.0 292.3V474.5H430.2V292.3" stroke="#8a8a8a" stroke-width="1" fill="none"/>
<path d="M51.5 474.50H56.0 M53.2 469.94H56.0 M53.2 465.39H56.0 M53.2 460.83H56.0 M53.2 456.28H56.0 M51.5 451.73H56.0 M53.2 447.17H56.0 M53.2 442.62H56.0 M53.2 438.06H56.0 M53.2 433.50H56.0 M51.5 428.95H56.0 M53.2 424.39H56.0 M53.2 419.84H56.0 M53.2 415.29H56.0 M53.2 410.73H56.0 M51.5 406.18H56.0 M53.2 401.62H56.0 M53.2 397.06H56.0 M53.2 392.51H56.0 M53.2 387.96H56.0 M51.5 383.40H56.0 M53.2 378.85H56.0 M53.2 374.29H56.0 M53.2 369.74H56.0 M53.2 365.18H56.0 M51.5 360.62H56.0 M53.2 356.07H56.0 M53.2 351.51H56.0 M53.2 346.96H56.0 M53.2 342.41H56.0 M51.5 337.85H56.0 M53.2 333.30H56.0 M53.2 328.74H56.0 M53.2 324.19H56.0 M53.2 319.63H56.0 M51.5 315.07H56.0 M53.2 310.52H56.0 M53.2 305.97H56.0 M53.2 301.41H56.0 M53.2 296.86H56.0 M51.5 292.30H56.0 M430.2 474.50H434.4 M430.2 468.43H432.7 M430.2 462.35H432.7 M430.2 456.28H432.7 M430.2 450.21H432.7 M430.2 444.13H434.4 M430.2 438.06H432.7 M430.2 431.99H432.7 M430.2 425.91H432.7 M430.2 419.84H432.7 M430.2 413.77H434.4 M430.2 407.69H432.7 M430.2 401.62H432.7 M430.2 395.55H432.7 M430.2 389.47H432.7 M430.2 383.40H434.4 M430.2 377.33H432.7 M430.2 371.25H432.7 M430.2 365.18H432.7 M430.2 359.11H432.7 M430.2 353.03H434.4 M430.2 346.96H432.7 M430.2 340.89H432.7 M430.2 334.81H432.7 M430.2 328.74H432.7 M430.2 322.67H434.4 M430.2 316.59H432.7 M430.2 310.52H432.7 M430.2 304.45H432.7 M430.2 298.37H432.7 M430.2 292.30H434.4 M56.00 474.5V478.5 M68.47 474.5V477.0 M80.95 474.5V477.0 M93.42 474.5V477.0 M105.89 474.5V477.0 M118.37 474.5V478.5 M130.84 474.5V477.0 M143.31 474.5V477.0 M155.79 474.5V477.0 M168.26 474.5V477.0 M180.73 474.5V478.5 M193.21 474.5V477.0 M205.68 474.5V477.0 M218.15 474.5V477.0 M230.63 474.5V477.0 M243.10 474.5V478.5 M255.57 474.5V477.0 M268.05 474.5V477.0 M280.52 474.5V477.0 M292.99 474.5V477.0 M305.47 474.5V478.5 M317.94 474.5V477.0 M330.41 474.5V477.0 M342.89 474.5V477.0 M355.36 474.5V477.0 M367.83 474.5V478.5 M380.31 474.5V477.0 M392.78 474.5V477.0 M405.25 474.5V477.0 M417.73 474.5V477.0 M430.20 474.5V478.5" stroke="#686868" stroke-width="0.9" fill="none"/>
<path d="M207.2 338.0H159.3" stroke="#8190c0" stroke-width="1.3"/><path d="M157.3 338.0L161.3 335.8L161.3 340.2Z" fill="#1C2F72"/>
<path d="M337.5 322.1H385.8" stroke="#6676b0" stroke-width="1.3"/><path d="M387.8 322.1L383.8 319.90000000000003L383.8 324.3Z" fill="#1C2F72"/>
<path d="M222.4 379.0H269.3" stroke="#9ccc9c" stroke-width="1.3"/><path d="M271.3 379.0L267.3 376.8L267.3 381.2Z" fill="#228B22"/>
<path d="M141.7 433.0V442.3" stroke="#8cc48c" stroke-width="1.1"/>
<path d="M141.7 442.3H93.5" stroke="#3f9a3f" stroke-width="1.3"/><path d="M91.5 442.3L95.5 440.1L95.5 444.5Z" fill="#228B22"/>
<polyline points="118.37,404.96 180.73,364.57 243.10,337.24 305.47,334.81 367.83,310.22" fill="none" stroke="#1C2F72" stroke-width="1.15" stroke-linejoin="round" stroke-dasharray="1.9 1"/>
<polyline points="118.37,474.50 180.73,422.88 243.10,356.98 305.47,338.15 367.83,340.89" fill="none" stroke="#228B22" stroke-width="1.15" stroke-linejoin="round" stroke-dasharray="1.9 1"/>
<circle cx="118.37" cy="404.96" r="1.5" fill="#fff" stroke="#1C2F72" stroke-width="0.9"/>
<circle cx="180.73" cy="364.57" r="1.5" fill="#fff" stroke="#1C2F72" stroke-width="0.9"/>
<circle cx="243.10" cy="337.24" r="1.5" fill="#fff" stroke="#1C2F72" stroke-width="0.9"/>
<circle cx="305.47" cy="334.81" r="1.5" fill="#fff" stroke="#1C2F72" stroke-width="0.9"/>
<circle cx="367.83" cy="310.22" r="1.5" fill="#fff" stroke="#1C2F72" stroke-width="0.9"/>
<path d="M116.57 475.67L118.37 472.70L120.17 475.67Z" fill="#fff" stroke="#228B22" stroke-width="0.8"/>
<path d="M178.93 424.05L180.73 421.08L182.53 424.05Z" fill="#fff" stroke="#228B22" stroke-width="0.8"/>
<path d="M241.30 358.15L243.10 355.18L244.90 358.15Z" fill="#fff" stroke="#228B22" stroke-width="0.8"/>
<path d="M303.67 339.32L305.47 336.35L307.27 339.32Z" fill="#fff" stroke="#228B22" stroke-width="0.8"/>
<path d="M366.03 342.06L367.83 339.09L369.63 342.06Z" fill="#fff" stroke="#228B22" stroke-width="0.8"/>
<polyline points="118.37,403.44 180.73,366.55 243.10,301.41 305.47,319.17 367.83,346.50" fill="none" stroke="#1C2F72" stroke-width="1.3" stroke-linejoin="round"/>
<polyline points="118.37,434.42 180.73,429.41 243.10,425.49 305.47,417.11 367.83,420.02" fill="none" stroke="#228B22" stroke-width="1.2" stroke-linejoin="round"/>
<circle cx="118.37" cy="403.44" r="2" fill="#1C2F72"/>
<circle cx="180.73" cy="366.55" r="2" fill="#1C2F72"/>
<circle cx="243.10" cy="301.41" r="2" fill="#1C2F72"/>
<circle cx="305.47" cy="319.17" r="2" fill="#1C2F72"/>
<circle cx="367.83" cy="346.50" r="2" fill="#1C2F72"/>
<path d="M116.37 435.72L118.37 432.42L120.37 435.72Z" fill="#228B22"/>
<path d="M178.73 430.71L180.73 427.41L182.73 430.71Z" fill="#228B22"/>
<path d="M241.10 426.79L243.10 423.49L245.10 426.79Z" fill="#228B22"/>
<path d="M303.47 418.41L305.47 415.11L307.47 418.41Z" fill="#228B22"/>
<path d="M365.83 421.32L367.83 418.02L369.83 421.32Z" fill="#228B22"/>
<g font-family="&quot;Liberation Serif&quot;, serif" font-size="20">
<text transform="translate(43.16 35.93) scale(0.6483 0.6691)" font-style="italic" fill="#7030A0" stroke="#7030A0" stroke-width="0.25">950 <tspan font-size="14" dy="-1.5">°</tspan><tspan font-size="20" dx="-1.2" dy="1.5">C</tspan></text>
<text transform="translate(43.21 71.63) scale(0.6483 0.6691)" font-style="italic" fill="#00B0F0" stroke="#00B0F0" stroke-width="0.25">900 <tspan font-size="14" dy="-1.5">°</tspan><tspan font-size="20" dx="-1.2" dy="1.5">C</tspan></text>
<text transform="translate(43.64 107.23) scale(0.6483 0.6691)" font-style="italic" fill="#138A13" stroke="#138A13" stroke-width="0.25">850 <tspan font-size="14" dy="-1.5">°</tspan><tspan font-size="20" dx="-1.2" dy="1.5">C</tspan></text>
<text transform="translate(43.64 139.48) scale(0.6483 0.6691)" font-style="italic" fill="#FF1010" stroke="#FF1010" stroke-width="0.25">800 <tspan font-size="14" dy="-1.5">°</tspan><tspan font-size="20" dx="-1.2" dy="1.5">C</tspan></text>
<text transform="translate(43.49 167.63) scale(0.6483 0.6691)" font-style="italic" fill="#1F3A82" stroke="#1F3A82" stroke-width="0.25">750 <tspan font-size="14" dy="-1.5">°</tspan><tspan font-size="20" dx="-1.2" dy="1.5">C</tspan></text>
<text transform="translate(198.95 35.39) scale(0.6080 0.6141)" font-style="italic" fill="#7030A0" stroke="#7030A0" stroke-width="0.25">I<tspan font-size="14" dy="4">G</tspan><tspan font-size="20" dy="-4">/I</tspan><tspan font-size="14" dy="4">D</tspan><tspan font-size="20" dy="-4"> = 1.2</tspan></text>
<text transform="translate(212.21 71.46) scale(0.6474 0.6393)" font-style="italic" fill="#00B0F0" stroke="#00B0F0" stroke-width="0.25">1.3</text>
<text transform="translate(212.49 106.88) scale(0.6474 0.6393)" font-style="italic" fill="#138A13" stroke="#138A13" stroke-width="0.25">1.1</text>
<text transform="translate(212.15 139.21) scale(0.6474 0.6393)" font-style="italic" fill="#FF1010" stroke="#FF1010" stroke-width="0.25">1.0</text>
<text transform="translate(211.95 167.71) scale(0.6474 0.6393)" font-style="italic" fill="#1F3A82" stroke="#1F3A82" stroke-width="0.25">0.9</text>
<text transform="translate(385.95 35.60) scale(0.6077 0.6592)" font-style="italic" fill="#7030A0" stroke="#7030A0" stroke-width="0.25">I<tspan font-size="14" dy="4">2D</tspan><tspan font-size="20" dy="-4">/I</tspan><tspan font-size="14" dy="4">G</tspan><tspan font-size="20" dy="-4"> = 0.44</tspan></text>
<text transform="translate(401.11 71.66) scale(0.6548 0.6857)" font-style="italic" fill="#00B0F0" stroke="#00B0F0" stroke-width="0.25">0.45</text>
<text transform="translate(401.03 107.16) scale(0.6548 0.6857)" font-style="italic" fill="#138A13" stroke="#138A13" stroke-width="0.25">0.39</text>
<text transform="translate(401.00 139.46) scale(0.6548 0.6857)" font-style="italic" fill="#FF1010" stroke="#FF1010" stroke-width="0.25">0.17</text>
<text transform="translate(381.03 197.39) scale(0.6660 0.6214)" font-style="italic" fill="#222222" stroke="#222222" stroke-width="0.25">Co-Cu/ArDC</text>
<text transform="translate(29.17 231.34) scale(0.6300 0.6473)" font-style="italic" fill="#222222" stroke="#222222" stroke-width="0.25">800</text>
<text transform="translate(96.24 231.34) scale(0.6300 0.6473)" font-style="italic" fill="#222222" stroke="#222222" stroke-width="0.25">1200</text>
<text transform="translate(166.54 231.34) scale(0.6300 0.6473)" font-style="italic" fill="#222222" stroke="#222222" stroke-width="0.25">1600</text>
<text transform="translate(237.00 231.34) scale(0.6300 0.6473)" font-style="italic" fill="#222222" stroke="#222222" stroke-width="0.25">2000</text>
<text transform="translate(307.30 231.34) scale(0.6300 0.6473)" font-style="italic" fill="#222222" stroke="#222222" stroke-width="0.25">2400</text>
<text transform="translate(377.60 231.34) scale(0.6300 0.6473)" font-style="italic" fill="#222222" stroke="#222222" stroke-width="0.25">2800</text>
<text transform="translate(447.98 231.34) scale(0.6300 0.6473)" font-style="italic" fill="#222222" stroke="#222222" stroke-width="0.25">3200</text>
<text transform="translate(191.79 249.59) scale(0.7545 0.6905)" font-style="italic" fill="#222222" stroke="#222222" stroke-width="0.25">Raman shift (cm<tspan font-size="14" dy="-7">−1</tspan><tspan dy="7">)</tspan></text>
<text transform="translate(25.60 159.71) rotate(-90) scale(0.7787 0.8000)" font-style="italic" fill="#222222" stroke="#222222" stroke-width="0.25">Intensity (a. u.)</text>
<text transform="translate(231.05 280.04) scale(0.8615 0.8603)" fill="#111111" stroke="#111111" stroke-width="0">(<tspan font-weight="bold">b</tspan>)</text>
<text transform="translate(232.78 539.31) scale(0.8244 0.8222)" fill="#111111" stroke="#111111" stroke-width="0">(<tspan font-weight="bold">c</tspan>)</text>
<text transform="translate(29.64 477.73) scale(0.5837 0.5357)" font-style="italic" fill="#222222" stroke="#222222" stroke-width="0.25">0.0</text>
<text transform="translate(29.78 454.96) scale(0.5837 0.5357)" font-style="italic" fill="#222222" stroke="#222222" stroke-width="0.25">0.5</text>
<text transform="translate(29.71 432.18) scale(0.5837 0.5357)" font-style="italic" fill="#222222" stroke="#222222" stroke-width="0.25">1.0</text>
<text transform="translate(29.85 409.34) scale(0.5837 0.5357)" font-style="italic" fill="#222222" stroke="#222222" stroke-width="0.25">1.5</text>
<text transform="translate(29.85 386.63) scale(0.5837 0.5357)" font-style="italic" fill="#222222" stroke="#222222" stroke-width="0.25">2.0</text>
<text transform="translate(30.00 363.86) scale(0.5837 0.5357)" font-style="italic" fill="#222222" stroke="#222222" stroke-width="0.25">2.5</text>
<text transform="translate(29.93 341.08) scale(0.5837 0.5357)" font-style="italic" fill="#222222" stroke="#222222" stroke-width="0.25">3.0</text>
<text transform="translate(30.07 318.31) scale(0.5837 0.5357)" font-style="italic" fill="#222222" stroke="#222222" stroke-width="0.25">3.5</text>
<text transform="translate(29.85 295.53) scale(0.5837 0.5357)" font-style="italic" fill="#222222" stroke="#222222" stroke-width="0.25">4.0</text>
<text transform="translate(441.39 477.71) scale(0.5875 0.5714)" font-style="italic" fill="#222222" stroke="#222222" stroke-width="0.25">0.0</text>
<text transform="translate(441.97 447.35) scale(0.5875 0.5714)" font-style="italic" fill="#222222" stroke="#222222" stroke-width="0.25">0.1</text>
<text transform="translate(441.46 416.98) scale(0.5875 0.5714)" font-style="italic" fill="#222222" stroke="#222222" stroke-width="0.25">0.2</text>
<text transform="translate(441.53 386.61) scale(0.5875 0.5714)" font-style="italic" fill="#222222" stroke="#222222" stroke-width="0.25">0.3</text>
<text transform="translate(441.46 356.25) scale(0.5875 0.5714)" font-style="italic" fill="#222222" stroke="#222222" stroke-width="0.25">0.4</text>
<text transform="translate(441.53 325.88) scale(0.5875 0.5714)" font-style="italic" fill="#222222" stroke="#222222" stroke-width="0.25">0.5</text>
<text transform="translate(441.39 295.51) scale(0.5875 0.5714)" font-style="italic" fill="#222222" stroke="#222222" stroke-width="0.25">0.6</text>
<text transform="translate(47.29 494.85) scale(0.5424 0.5818)" font-style="italic" fill="#222222" stroke="#222222" stroke-width="0.25">700</text>
<text transform="translate(109.66 494.85) scale(0.5424 0.5818)" font-style="italic" fill="#222222" stroke="#222222" stroke-width="0.25">750</text>
<text transform="translate(172.23 494.85) scale(0.5424 0.5818)" font-style="italic" fill="#222222" stroke="#222222" stroke-width="0.25">800</text>
<text transform="translate(234.60 494.85) scale(0.5424 0.5818)" font-style="italic" fill="#222222" stroke="#222222" stroke-width="0.25">850</text>
<text transform="translate(296.90 494.85) scale(0.5424 0.5818)" font-style="italic" fill="#222222" stroke="#222222" stroke-width="0.25">900</text>
<text transform="translate(359.26 494.85) scale(0.5424 0.5818)" font-style="italic" fill="#222222" stroke="#222222" stroke-width="0.25">950</text>
<text transform="translate(418.92 494.85) scale(0.5424 0.5818)" font-style="italic" fill="#222222" stroke="#222222" stroke-width="0.25">1000</text>
<text transform="translate(200.15 510.92) scale(0.6030 0.5297)" font-style="italic" fill="#222222" stroke="#222222" stroke-width="0.25">Temperature (<tspan font-size="14" dy="-1.5">°</tspan><tspan font-size="20" dx="-1.2" dy="1.5">C</tspan>)</text>
<text transform="translate(158.66 315.15) scale(0.6283 0.5965)" font-style="italic" font-weight="bold" fill="#1F3A7D" stroke="#1F3A7D" stroke-width="0">Ni-Cu/ArDC</text>
<text transform="translate(212.43 416.84) scale(0.6245 0.6519)" font-style="italic" font-weight="bold" fill="#1E8A1E" stroke="#1E8A1E" stroke-width="0">Co-Cu/ArDC</text>
<text transform="translate(21.28 401.46) rotate(-90) scale(0.5401 0.6400)" font-style="italic" fill="#222222" stroke="#222222" stroke-width="0.25">I<tspan font-size="14" dy="4">G</tspan><tspan font-size="20" dy="-4">/I</tspan><tspan font-size="14" dy="4">D</tspan></text>
<text transform="translate(461.64 383.44) rotate(90) scale(0.5492 0.6457)" font-style="italic" fill="#222222" stroke="#222222" stroke-width="0.25">I<tspan font-size="14" dy="4">2D</tspan><tspan font-size="20" dy="-4">/I</tspan><tspan font-size="14" dy="4">G</tspan></text>
</g>
</svg>
</body></html>
